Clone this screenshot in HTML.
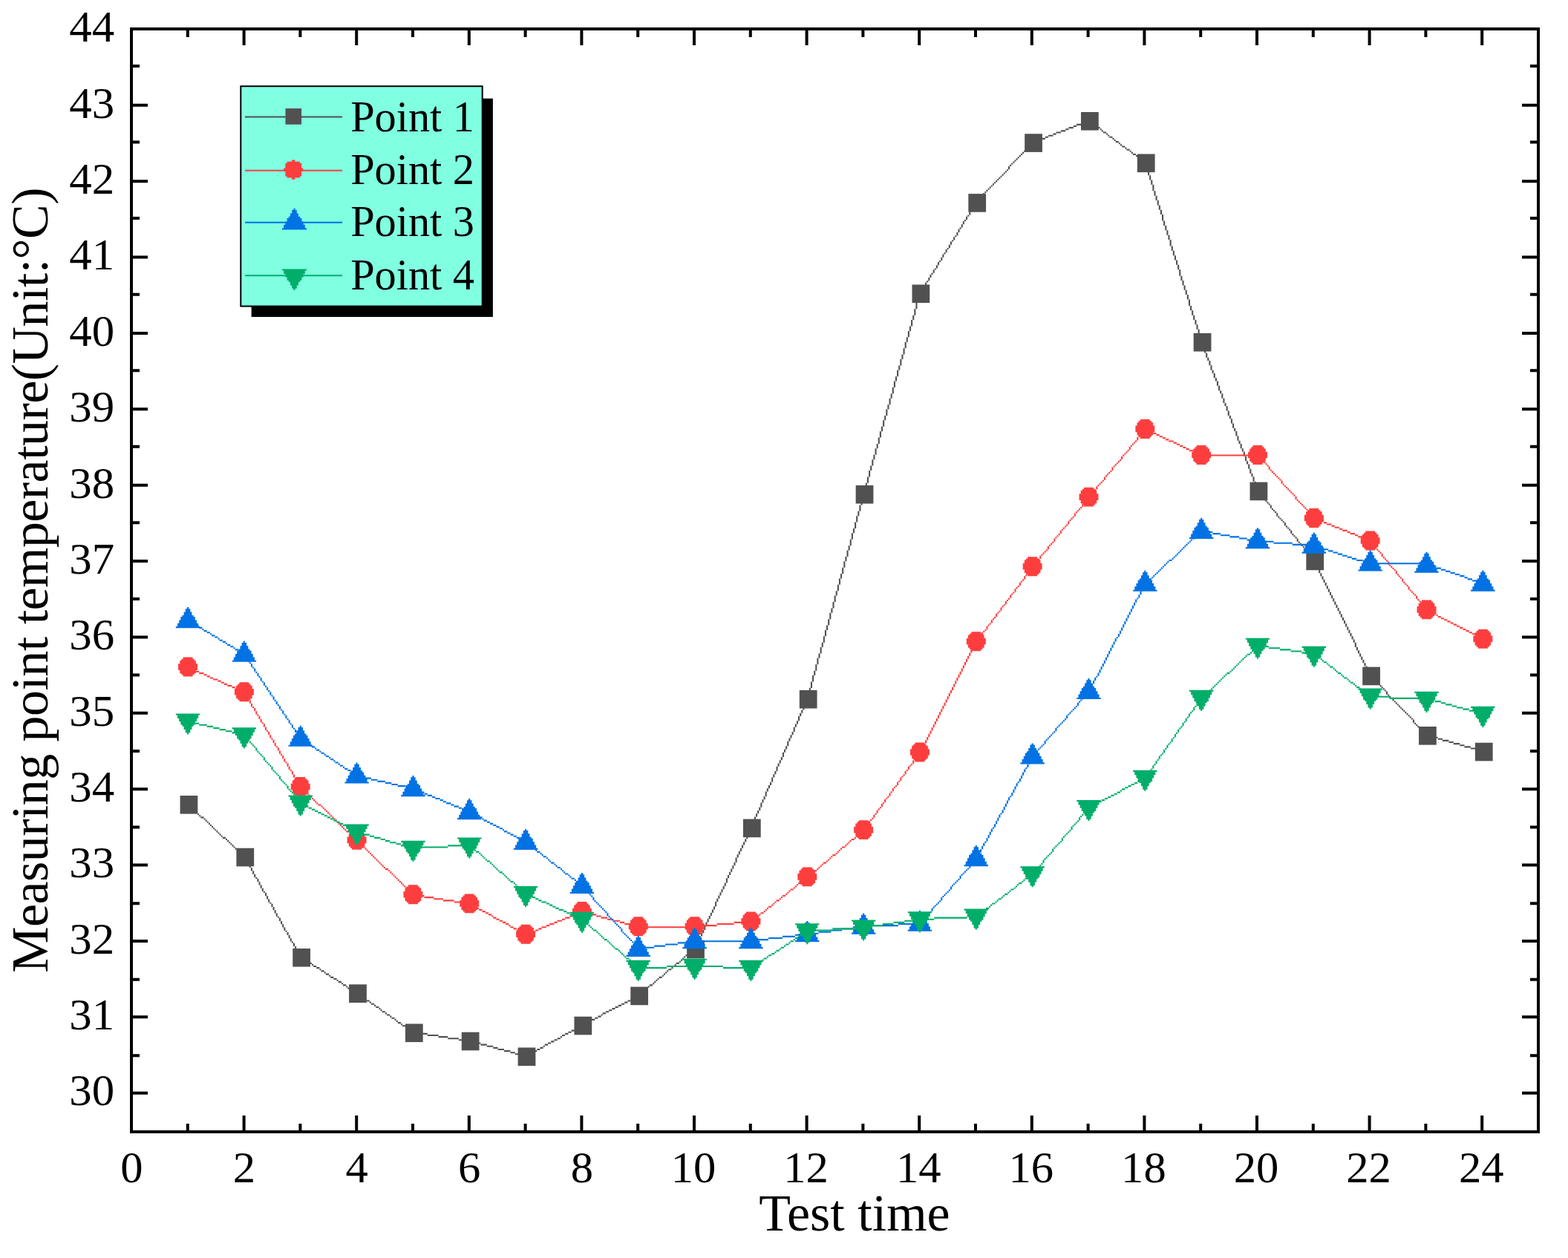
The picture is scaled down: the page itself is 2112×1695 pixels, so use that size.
<!DOCTYPE html>
<html lang="en"><head><meta charset="utf-8"><title>Measuring point temperature vs test time</title>
<style>html,body{margin:0;padding:0;background:#fff}body{width:2112px;height:1695px;overflow:hidden}svg{display:block}text{font-family:'Liberation Serif',serif;fill:#000}</style>
</head><body>
<svg width="2112" height="1695" viewBox="0 0 2112 1695">
<rect width="2112" height="1695" fill="#fff"/>
<g stroke-linecap="butt">
<path fill="#515151" d="M253.44,1083.46h2.11v2.11h-2.11zM255.55,1085.57h2.11v2.11h-2.11zM257.65,1087.68h2.11v2.11h-2.11zM259.76,1089.79h2.11v2.11h-2.11zM261.87,1091.9h2.11v2.11h-2.11zM263.97,1094.02h2.11v2.11h-2.11zM266.08,1096.13h2.11v2.11h-2.11zM268.19,1098.24h2.11v2.11h-2.11zM270.29,1100.35h4.21v2.11h-4.21zM274.51,1102.46h2.11v2.11h-2.11zM276.61,1104.58h2.11v2.11h-2.11zM278.72,1106.69h2.11v2.11h-2.11zM280.83,1108.8h2.11v2.11h-2.11zM282.93,1110.91h2.11v2.11h-2.11zM285.04,1113.02h2.11v2.11h-2.11zM287.15,1115.14h2.11v2.11h-2.11zM289.25,1117.25h2.11v2.11h-2.11zM291.36,1119.36h2.11v2.11h-2.11zM293.47,1121.47h2.11v2.11h-2.11zM295.57,1123.58h2.11v2.11h-2.11zM297.68,1125.7h2.11v2.11h-2.11zM299.79,1127.81h4.21v2.11h-4.21zM304,1129.92h2.11v2.11h-2.11zM306.11,1132.03h2.11v2.11h-2.11zM308.21,1134.14h2.11v2.11h-2.11zM310.32,1136.26h2.11v2.11h-2.11zM312.43,1138.37h2.11v2.11h-2.11zM314.53,1140.48h2.11v2.11h-2.11zM316.64,1142.59h2.11v2.11h-2.11zM318.75,1144.7h2.11v2.11h-2.11zM320.85,1146.82h2.11v2.11h-2.11zM322.96,1148.93h2.11v2.11h-2.11zM325.07,1151.04h2.11v2.11h-2.11zM327.17,1153.15h2.11v2.11h-2.11zM329.47,1154.46h2.11v4.23h-2.11zM331.58,1158.69h2.11v4.23h-2.11zM333.7,1162.91h2.11v4.23h-2.11zM335.81,1167.14h2.11v2.11h-2.11zM337.92,1169.25h2.11v4.23h-2.11zM340.03,1173.48h2.11v4.23h-2.11zM342.14,1177.7h2.11v4.23h-2.11zM344.26,1181.93h2.11v2.11h-2.11zM346.37,1184.04h2.11v4.23h-2.11zM348.48,1188.26h2.11v4.23h-2.11zM350.59,1192.49h2.11v4.23h-2.11zM352.7,1196.72h2.11v4.23h-2.11zM354.82,1200.94h2.11v2.11h-2.11zM356.93,1203.05h2.11v4.23h-2.11zM359.04,1207.28h2.11v4.23h-2.11zM361.15,1211.51h2.11v4.23h-2.11zM363.26,1215.73h2.11v2.11h-2.11zM365.38,1217.84h2.11v4.23h-2.11zM367.49,1222.07h2.11v4.23h-2.11zM369.6,1226.3h2.11v4.23h-2.11zM371.71,1230.52h2.11v4.23h-2.11zM373.82,1234.75h2.11v2.11h-2.11zM375.94,1236.86h2.11v4.23h-2.11zM378.05,1241.09h2.11v4.23h-2.11zM380.16,1245.31h2.11v4.23h-2.11zM382.27,1249.54h2.11v4.23h-2.11zM384.38,1253.76h2.11v2.11h-2.11zM386.5,1255.88h2.11v4.23h-2.11zM388.61,1260.1h2.11v4.23h-2.11zM390.72,1264.33h2.11v4.23h-2.11zM392.83,1268.55h2.11v2.11h-2.11zM394.94,1270.66h2.11v4.23h-2.11zM397.06,1274.89h2.11v4.23h-2.11zM399.17,1279.12h2.11v4.23h-2.11zM401.28,1283.34h2.11v4.23h-2.11zM403.39,1287.57h2.11v2.11h-2.11zM405.12,1288.32h2.11v2.11h-2.11zM407.23,1290.43h2.11v2.11h-2.11zM409.33,1292.54h4.21v2.11h-4.21zM413.55,1294.66h2.11v2.11h-2.11zM415.65,1296.77h4.21v2.11h-4.21zM419.87,1298.88h2.11v2.11h-2.11zM421.97,1300.99h4.21v2.11h-4.21zM426.19,1303.1h4.21v2.11h-4.21zM430.4,1305.22h2.11v2.11h-2.11zM432.51,1307.33h4.21v2.11h-4.21zM436.72,1309.44h2.11v2.11h-2.11zM438.83,1311.55h4.21v2.11h-4.21zM443.04,1313.66h2.11v2.11h-2.11zM445.15,1315.78h4.21v2.11h-4.21zM449.36,1317.89h4.21v2.11h-4.21zM453.57,1320h2.11v2.11h-2.11zM455.68,1322.11h4.21v2.11h-4.21zM459.89,1324.22h2.11v2.11h-2.11zM462,1326.34h4.21v2.11h-4.21zM466.21,1328.45h2.11v2.11h-2.11zM468.32,1330.56h4.21v2.11h-4.21zM472.53,1332.67h4.21v2.11h-4.21zM476.75,1334.78h2.11v2.11h-2.11zM478.85,1336.9h2.11v2.11h-2.11zM480.96,1336.9h2.11v2.11h-2.11zM483.07,1339.01h2.11v2.11h-2.11zM485.17,1341.12h2.11v2.11h-2.11zM487.28,1343.23h4.21v2.11h-4.21zM491.49,1345.34h2.11v2.11h-2.11zM493.6,1347.46h4.21v2.11h-4.21zM497.81,1349.57h2.11v2.11h-2.11zM499.92,1351.68h4.21v2.11h-4.21zM504.13,1353.79h2.11v2.11h-2.11zM506.24,1355.9h4.21v2.11h-4.21zM510.45,1358.02h2.11v2.11h-2.11zM512.56,1360.13h2.11v2.11h-2.11zM514.67,1362.24h4.21v2.11h-4.21zM518.88,1364.35h2.11v2.11h-2.11zM520.99,1366.46h4.21v2.11h-4.21zM525.2,1368.58h2.11v2.11h-2.11zM527.31,1370.69h4.21v2.11h-4.21zM531.52,1372.8h2.11v2.11h-2.11zM533.63,1374.91h2.11v2.11h-2.11zM535.73,1377.02h4.21v2.11h-4.21zM539.95,1379.14h2.11v2.11h-2.11zM542.05,1381.25h4.21v2.11h-4.21zM546.27,1383.36h2.11v2.11h-2.11zM548.37,1385.47h4.21v2.11h-4.21zM552.59,1387.58h2.11v2.11h-2.11zM554.69,1389.7h2.11v2.11h-2.11zM556.8,1389.7h4.21v2.11h-4.21zM561.01,1391.81h14.75v2.11h-14.75zM575.76,1393.92h14.75v2.11h-14.75zM590.51,1396.03h12.64v2.11h-12.64zM603.15,1398.14h14.75v2.11h-14.75zM617.89,1400.26h14.75v2.11h-14.75zM632.64,1402.37h8.43v2.11h-8.43zM641.07,1404.48h6.32v2.11h-6.32zM647.39,1406.59h8.43v2.11h-8.43zM655.81,1408.7h8.43v2.11h-8.43zM664.24,1410.82h6.32v2.11h-6.32zM670.56,1412.93h8.43v2.11h-8.43zM678.99,1415.04h8.43v2.11h-8.43zM687.41,1417.15h6.32v2.11h-6.32zM693.73,1419.26h8.43v2.11h-8.43zM702.16,1421.38h6.32v2.11h-6.32zM708.48,1421.38h4.21v2.11h-4.21zM712.69,1419.26h2.11v2.11h-2.11zM714.8,1417.15h4.21v2.11h-4.21zM719.01,1415.04h4.21v2.11h-4.21zM723.23,1412.93h4.21v2.11h-4.21zM727.44,1410.82h4.21v2.11h-4.21zM731.65,1408.7h2.11v2.11h-2.11zM733.76,1406.59h4.21v2.11h-4.21zM737.97,1404.48h4.21v2.11h-4.21zM742.19,1402.37h4.21v2.11h-4.21zM746.4,1400.26h4.21v2.11h-4.21zM750.61,1398.14h4.21v2.11h-4.21zM754.83,1396.03h2.11v2.11h-2.11zM756.93,1393.92h4.21v2.11h-4.21zM761.15,1391.81h4.21v2.11h-4.21zM765.36,1389.7h4.21v2.11h-4.21zM769.57,1387.58h4.21v2.11h-4.21zM773.79,1385.47h4.21v2.11h-4.21zM778,1383.36h2.11v2.11h-2.11zM780.11,1381.25h4.21v2.11h-4.21zM784.32,1379.14h4.21v2.11h-4.21zM788.53,1377.02h4.21v2.11h-4.21zM792.75,1374.91h4.21v2.11h-4.21zM796.96,1372.8h4.21v2.11h-4.21zM801.17,1370.69h4.21v2.11h-4.21zM805.39,1368.58h4.21v2.11h-4.21zM809.6,1366.46h2.11v2.11h-2.11zM811.71,1364.35h4.21v2.11h-4.21zM815.92,1362.24h4.21v2.11h-4.21zM820.13,1360.13h4.21v2.11h-4.21zM824.35,1358.02h4.21v2.11h-4.21zM828.56,1355.9h4.21v2.11h-4.21zM832.77,1353.79h4.21v2.11h-4.21zM836.99,1351.68h4.21v2.11h-4.21zM841.2,1349.57h4.21v2.11h-4.21zM845.41,1347.46h4.21v2.11h-4.21zM849.63,1345.34h2.11v2.11h-2.11zM851.73,1343.23h4.21v2.11h-4.21zM855.95,1341.12h4.21v2.11h-4.21zM860.16,1339.01h2.11v2.11h-2.11zM862.27,1336.9h4.21v2.11h-4.21zM866.48,1334.78h2.11v2.11h-2.11zM868.59,1332.67h2.11v2.11h-2.11zM870.69,1330.56h2.11v2.11h-2.11zM872.8,1328.45h2.11v2.11h-2.11zM874.91,1326.34h4.21v2.11h-4.21zM879.12,1324.22h2.11v2.11h-2.11zM881.23,1322.11h2.11v2.11h-2.11zM883.33,1320h2.11v2.11h-2.11zM885.44,1317.89h2.11v2.11h-2.11zM887.55,1315.78h4.21v2.11h-4.21zM891.76,1313.66h2.11v2.11h-2.11zM893.87,1311.55h2.11v2.11h-2.11zM895.97,1309.44h2.11v2.11h-2.11zM898.08,1307.33h2.11v2.11h-2.11zM900.19,1305.22h4.21v2.11h-4.21zM904.4,1303.1h2.11v2.11h-2.11zM906.51,1300.99h2.11v2.11h-2.11zM908.61,1298.88h2.11v2.11h-2.11zM910.72,1296.77h4.21v2.11h-4.21zM914.93,1294.66h2.11v2.11h-2.11zM917.04,1292.54h2.11v2.11h-2.11zM919.15,1290.43h2.11v2.11h-2.11zM921.25,1288.32h2.11v2.11h-2.11zM923.36,1286.21h4.21v2.11h-4.21zM927.57,1284.1h2.11v2.11h-2.11zM929.68,1281.98h2.11v2.11h-2.11zM931.79,1279.87h2.11v2.11h-2.11zM933.89,1277.76h2.11v2.11h-2.11zM935.62,1274.3h2.11v4.24h-2.11zM937.73,1270.06h2.11v4.24h-2.11zM939.84,1265.82h2.11v4.24h-2.11zM941.95,1261.58h2.11v4.24h-2.11zM944.06,1257.34h2.11v4.24h-2.11zM946.18,1253.1h2.11v4.24h-2.11zM948.29,1246.74h2.11v6.36h-2.11zM950.4,1242.5h2.11v4.24h-2.11zM952.51,1238.26h2.11v4.24h-2.11zM954.62,1234.02h2.11v4.24h-2.11zM956.74,1229.78h2.11v4.24h-2.11zM958.85,1225.54h2.11v4.24h-2.11zM960.96,1221.3h2.11v4.24h-2.11zM963.07,1214.94h2.11v6.36h-2.11zM965.18,1210.7h2.11v4.24h-2.11zM967.3,1206.46h2.11v4.24h-2.11zM969.41,1202.22h2.11v4.24h-2.11zM971.52,1197.98h2.11v4.24h-2.11zM973.63,1193.74h2.11v4.24h-2.11zM975.74,1189.5h2.11v4.24h-2.11zM977.86,1183.14h2.11v6.36h-2.11zM979.97,1178.9h2.11v4.24h-2.11zM982.08,1174.66h2.11v4.24h-2.11zM984.19,1170.42h2.11v4.24h-2.11zM986.3,1166.18h2.11v4.24h-2.11zM988.42,1161.94h2.11v4.24h-2.11zM990.53,1155.58h2.11v6.36h-2.11zM992.64,1151.34h2.11v4.24h-2.11zM994.75,1147.1h2.11v4.24h-2.11zM996.86,1142.86h2.11v4.24h-2.11zM998.98,1138.62h2.11v4.24h-2.11zM1001.09,1134.38h2.11v4.24h-2.11zM1003.2,1130.14h2.11v4.24h-2.11zM1005.31,1123.78h2.11v6.36h-2.11zM1007.42,1119.54h2.11v4.24h-2.11zM1009.54,1115.3h2.11v4.24h-2.11zM1011.65,1111.06h2.11v4.24h-2.11zM1013.76,1106.83h2.11v4.24h-2.11zM1015.87,1100.47h2.11v6.35h-2.11zM1017.98,1096.24h2.11v4.24h-2.11zM1020.1,1092h2.11v4.24h-2.11zM1022.21,1087.77h2.11v4.24h-2.11zM1024.32,1081.41h2.11v6.35h-2.11zM1026.43,1077.18h2.11v4.24h-2.11zM1028.54,1072.94h2.11v4.24h-2.11zM1030.66,1066.58h2.11v6.35h-2.11zM1032.77,1062.35h2.11v4.24h-2.11zM1034.88,1058.11h2.11v4.24h-2.11zM1036.99,1053.88h2.11v4.24h-2.11zM1039.1,1047.52h2.11v6.35h-2.11zM1041.22,1043.29h2.11v4.24h-2.11zM1043.33,1039.05h2.11v4.24h-2.11zM1045.44,1032.7h2.11v6.35h-2.11zM1047.55,1028.46h2.11v4.24h-2.11zM1049.66,1024.22h2.11v4.24h-2.11zM1051.78,1019.99h2.11v4.24h-2.11zM1053.89,1013.63h2.11v6.35h-2.11zM1056,1009.4h2.11v4.24h-2.11zM1058.11,1005.16h2.11v4.24h-2.11zM1060.22,998.81h2.11v6.35h-2.11zM1062.34,994.57h2.11v4.24h-2.11zM1064.45,990.34h2.11v4.24h-2.11zM1066.56,986.1h2.11v4.24h-2.11zM1068.67,979.74h2.11v6.35h-2.11zM1070.78,975.51h2.11v4.24h-2.11zM1072.9,971.27h2.11v4.24h-2.11zM1075.01,964.92h2.11v6.35h-2.11zM1077.12,960.68h2.11v4.24h-2.11zM1079.23,956.45h2.11v4.24h-2.11zM1081.34,952.21h2.11v4.24h-2.11zM1083.46,945.86h2.11v6.35h-2.11zM1085.57,941.62h2.11v4.24h-2.11zM1087.68,933.19h2.11v8.43h-2.11zM1089.79,926.87h2.11v6.32h-2.11zM1091.9,918.45h2.11v8.43h-2.11zM1094.02,910.02h2.11v8.43h-2.11zM1096.13,903.7h2.11v6.32h-2.11zM1098.24,895.27h2.11v8.43h-2.11zM1100.35,886.85h2.11v8.43h-2.11zM1102.46,880.53h2.11v6.32h-2.11zM1104.58,872.1h2.11v8.43h-2.11zM1106.69,865.78h2.11v6.32h-2.11zM1108.8,857.35h2.11v8.43h-2.11zM1110.91,848.92h2.11v8.43h-2.11zM1113.02,842.6h2.11v6.32h-2.11zM1115.14,834.18h2.11v8.43h-2.11zM1117.25,825.75h2.11v8.43h-2.11zM1119.36,819.43h2.11v6.32h-2.11zM1121.47,811h2.11v8.43h-2.11zM1123.58,802.58h2.11v8.43h-2.11zM1125.7,796.26h2.11v6.32h-2.11zM1127.81,787.83h2.11v8.43h-2.11zM1129.92,779.4h2.11v8.43h-2.11zM1132.03,773.08h2.11v6.32h-2.11zM1134.14,764.66h2.11v8.43h-2.11zM1136.26,756.23h2.11v8.43h-2.11zM1138.37,749.91h2.11v6.32h-2.11zM1140.48,741.48h2.11v8.43h-2.11zM1142.59,735.16h2.11v6.32h-2.11zM1144.7,726.73h2.11v8.43h-2.11zM1146.82,718.31h2.11v8.43h-2.11zM1148.93,711.99h2.11v6.32h-2.11zM1151.04,703.56h2.11v8.43h-2.11zM1153.15,695.13h2.11v8.43h-2.11zM1155.26,688.81h2.11v6.32h-2.11zM1157.38,680.39h2.11v8.43h-2.11zM1159.49,671.96h2.11v8.43h-2.11zM1161.6,665.64h2.11v6.32h-2.11zM1163.71,657.19h2.11v8.45h-2.11zM1165.82,650.85h2.11v6.34h-2.11zM1167.94,642.4h2.11v8.45h-2.11zM1170.05,633.95h2.11v8.45h-2.11zM1172.16,627.61h2.11v6.34h-2.11zM1174.27,619.16h2.11v8.45h-2.11zM1176.38,612.82h2.11v6.34h-2.11zM1178.5,604.37h2.11v8.45h-2.11zM1180.61,598.03h2.11v6.34h-2.11zM1182.72,589.58h2.11v8.45h-2.11zM1184.83,581.13h2.11v8.45h-2.11zM1186.94,574.79h2.11v6.34h-2.11zM1189.06,566.34h2.11v8.45h-2.11zM1191.17,560h2.11v6.34h-2.11zM1193.28,551.55h2.11v8.45h-2.11zM1195.39,545.21h2.11v6.34h-2.11zM1197.5,536.76h2.11v8.45h-2.11zM1199.62,530.42h2.11v6.34h-2.11zM1201.73,521.97h2.11v8.45h-2.11zM1203.84,513.52h2.11v8.45h-2.11zM1205.95,507.18h2.11v6.34h-2.11zM1208.06,498.73h2.11v8.45h-2.11zM1210.18,492.39h2.11v6.34h-2.11zM1212.29,483.94h2.11v8.45h-2.11zM1214.4,477.6h2.11v6.34h-2.11zM1216.51,469.15h2.11v8.45h-2.11zM1218.62,460.7h2.11v8.45h-2.11zM1220.74,454.36h2.11v6.34h-2.11zM1222.85,445.91h2.11v8.45h-2.11zM1224.96,439.57h2.11v6.34h-2.11zM1227.07,431.12h2.11v8.45h-2.11zM1229.18,424.78h2.11v6.34h-2.11zM1231.3,416.33h2.11v8.45h-2.11zM1233.41,407.88h2.11v8.45h-2.11zM1235.52,401.54h2.11v6.34h-2.11zM1237.63,395.2h2.11v6.34h-2.11zM1239.74,390.98h2.11v4.22h-2.11zM1241.86,386.76h2.11v4.22h-2.11zM1243.97,384.65h2.11v2.11h-2.11zM1246.08,380.43h2.11v4.22h-2.11zM1248.19,378.32h2.11v2.11h-2.11zM1250.3,374.1h2.11v4.22h-2.11zM1252.42,369.88h2.11v4.22h-2.11zM1254.53,367.77h2.11v2.11h-2.11zM1256.64,363.55h2.11v4.22h-2.11zM1258.75,361.44h2.11v2.11h-2.11zM1260.86,357.22h2.11v4.22h-2.11zM1262.98,353h2.11v4.22h-2.11zM1265.09,350.89h2.11v2.11h-2.11zM1267.2,346.67h2.11v4.22h-2.11zM1269.31,342.45h2.11v4.22h-2.11zM1271.42,340.34h2.11v2.11h-2.11zM1273.54,336.12h2.11v4.22h-2.11zM1275.65,334.01h2.11v2.11h-2.11zM1277.76,329.79h2.11v4.22h-2.11zM1279.87,325.57h2.11v4.22h-2.11zM1281.98,323.46h2.11v2.11h-2.11zM1284.1,319.24h2.11v4.22h-2.11zM1286.21,317.13h2.11v2.11h-2.11zM1288.32,312.91h2.11v4.22h-2.11zM1290.43,308.69h2.11v4.22h-2.11zM1292.54,306.58h2.11v2.11h-2.11zM1294.66,302.36h2.11v4.22h-2.11zM1296.77,298.14h2.11v4.22h-2.11zM1298.88,296.03h2.11v2.11h-2.11zM1300.99,291.81h2.11v4.22h-2.11zM1303.1,289.7h2.11v2.11h-2.11zM1305.22,285.48h2.11v4.22h-2.11zM1307.33,281.26h2.11v4.22h-2.11zM1309.44,279.15h2.11v2.11h-2.11zM1311.55,274.93h2.11v4.22h-2.11zM1313.66,272.82h2.11v2.11h-2.11zM1315.78,270.69h2.11v2.13h-2.11zM1317.89,268.57h2.11v2.13h-2.11zM1320,266.44h2.11v2.13h-2.11zM1322.11,262.19h2.11v4.25h-2.11zM1324.22,260.06h2.11v2.13h-2.11zM1326.34,257.93h2.11v2.13h-2.11zM1328.45,255.81h2.11v2.13h-2.11zM1330.56,253.68h2.11v2.13h-2.11zM1332.67,251.55h2.11v2.13h-2.11zM1334.78,249.42h2.11v2.13h-2.11zM1336.9,247.3h2.11v2.13h-2.11zM1339.01,245.17h2.11v2.13h-2.11zM1341.12,243.04h2.11v2.13h-2.11zM1343.23,240.92h2.11v2.13h-2.11zM1345.34,238.79h2.11v2.13h-2.11zM1347.46,236.66h2.11v2.13h-2.11zM1349.57,234.54h2.11v2.13h-2.11zM1351.68,232.41h2.11v2.13h-2.11zM1353.79,230.28h2.11v2.13h-2.11zM1355.9,228.16h2.11v2.13h-2.11zM1358.02,223.9h2.11v4.25h-2.11zM1360.13,221.78h2.11v2.13h-2.11zM1362.24,219.65h2.11v2.13h-2.11zM1364.35,217.52h2.11v2.13h-2.11zM1366.46,215.4h2.11v2.13h-2.11zM1368.58,213.27h2.11v2.13h-2.11zM1370.69,211.14h2.11v2.13h-2.11zM1372.8,209.01h2.11v2.13h-2.11zM1374.91,206.89h2.11v2.13h-2.11zM1377.02,204.76h2.11v2.13h-2.11zM1379.14,202.63h2.11v2.13h-2.11zM1381.25,200.51h2.11v2.13h-2.11zM1383.36,198.38h2.11v2.13h-2.11zM1385.47,196.25h2.11v2.13h-2.11zM1387.58,194.13h2.11v2.13h-2.11zM1389.7,192h2.11v2.13h-2.11zM1391.04,190.08h4.21v2.11h-4.21zM1395.25,187.97h6.32v2.11h-6.32zM1401.57,185.86h6.32v2.11h-6.32zM1407.89,183.74h4.21v2.11h-4.21zM1412.11,181.63h6.32v2.11h-6.32zM1418.43,179.52h4.21v2.11h-4.21zM1422.64,177.41h6.32v2.11h-6.32zM1428.96,175.3h6.32v2.11h-6.32zM1435.28,173.18h4.21v2.11h-4.21zM1439.49,171.07h6.32v2.11h-6.32zM1445.81,168.96h4.21v2.11h-4.21zM1450.03,166.85h6.32v2.11h-6.32zM1456.35,164.74h4.21v2.11h-4.21zM1460.56,162.62h6.32v2.11h-6.32zM1466.88,162.62h2.11v2.11h-2.11zM1468.99,164.74h4.21v2.11h-4.21zM1473.2,166.85h2.11v2.11h-2.11zM1475.31,168.96h2.11v2.11h-2.11zM1477.41,171.07h4.21v2.11h-4.21zM1481.63,173.18h2.11v2.11h-2.11zM1483.73,175.3h2.11v2.11h-2.11zM1485.84,177.41h4.21v2.11h-4.21zM1490.05,179.52h2.11v2.11h-2.11zM1492.16,181.63h2.11v2.11h-2.11zM1494.27,183.74h4.21v2.11h-4.21zM1498.48,185.86h2.11v2.11h-2.11zM1500.59,187.97h2.11v2.11h-2.11zM1502.69,190.08h4.21v2.11h-4.21zM1506.91,192.19h2.11v2.11h-2.11zM1509.01,194.3h2.11v2.11h-2.11zM1511.12,196.42h4.21v2.11h-4.21zM1515.33,198.53h2.11v2.11h-2.11zM1517.44,200.64h4.21v2.11h-4.21zM1521.65,202.75h2.11v2.11h-2.11zM1523.76,204.86h2.11v2.11h-2.11zM1525.87,206.98h4.21v2.11h-4.21zM1530.08,209.09h2.11v2.11h-2.11zM1532.19,211.2h2.11v2.11h-2.11zM1534.29,213.31h4.21v2.11h-4.21zM1538.51,215.42h2.11v2.11h-2.11zM1540.61,217.54h2.11v2.11h-2.11zM1541.76,219.22h2.11v4.24h-2.11zM1543.87,223.46h2.11v6.35h-2.11zM1545.98,229.81h2.11v6.35h-2.11zM1548.1,236.16h2.11v6.35h-2.11zM1550.21,242.51h2.11v6.35h-2.11zM1552.32,248.87h2.11v8.47h-2.11zM1554.43,257.34h2.11v6.35h-2.11zM1556.54,263.69h2.11v6.35h-2.11zM1558.66,270.05h2.11v6.35h-2.11zM1560.77,276.4h2.11v6.35h-2.11zM1562.88,282.75h2.11v6.35h-2.11zM1564.99,289.1h2.11v8.47h-2.11zM1567.1,297.58h2.11v6.35h-2.11zM1569.22,303.93h2.11v6.35h-2.11zM1571.33,310.28h2.11v6.35h-2.11zM1573.44,316.64h2.11v6.35h-2.11zM1575.55,322.99h2.11v8.47h-2.11zM1577.66,331.46h2.11v6.35h-2.11zM1579.78,337.81h2.11v6.35h-2.11zM1581.89,344.17h2.11v6.35h-2.11zM1584,350.52h2.11v6.35h-2.11zM1586.11,356.87h2.11v6.35h-2.11zM1588.22,363.22h2.11v8.47h-2.11zM1590.34,371.7h2.11v6.35h-2.11zM1592.45,378.05h2.11v6.35h-2.11zM1594.56,384.4h2.11v6.35h-2.11zM1596.67,390.76h2.11v6.35h-2.11zM1598.78,397.11h2.11v6.35h-2.11zM1600.9,403.46h2.11v8.47h-2.11zM1603.01,411.93h2.11v6.35h-2.11zM1605.12,418.29h2.11v6.35h-2.11zM1607.23,424.64h2.11v6.35h-2.11zM1609.34,430.99h2.11v6.35h-2.11zM1611.46,437.35h2.11v6.35h-2.11zM1613.57,443.7h2.11v8.47h-2.11zM1615.68,452.17h2.11v6.35h-2.11zM1617.79,458.52h2.11v2.12h-2.11zM1617.79,460.64h2.11v4.23h-2.11zM1619.9,464.87h2.11v4.23h-2.11zM1622.02,469.09h2.11v6.34h-2.11zM1624.13,475.43h2.11v6.34h-2.11zM1626.24,481.77h2.11v4.23h-2.11zM1628.35,485.99h2.11v6.34h-2.11zM1630.46,492.33h2.11v6.34h-2.11zM1632.58,498.67h2.11v4.23h-2.11zM1634.69,502.89h2.11v6.34h-2.11zM1636.8,509.23h2.11v4.23h-2.11zM1638.91,513.46h2.11v6.34h-2.11zM1641.02,519.79h2.11v6.34h-2.11zM1643.14,526.13h2.11v4.23h-2.11zM1645.25,530.36h2.11v6.34h-2.11zM1647.36,536.69h2.11v6.34h-2.11zM1649.47,543.03h2.11v4.23h-2.11zM1651.58,547.26h2.11v6.34h-2.11zM1653.7,553.6h2.11v6.34h-2.11zM1655.81,559.93h2.11v4.23h-2.11zM1657.92,564.16h2.11v6.34h-2.11zM1660.03,570.5h2.11v6.34h-2.11zM1662.14,576.83h2.11v4.23h-2.11zM1664.26,581.06h2.11v6.34h-2.11zM1666.37,587.4h2.11v6.34h-2.11zM1668.48,593.74h2.11v4.23h-2.11zM1670.59,597.96h2.11v6.34h-2.11zM1672.7,604.3h2.11v4.23h-2.11zM1674.82,608.52h2.11v6.34h-2.11zM1676.93,614.86h2.11v6.34h-2.11zM1679.04,621.2h2.11v4.23h-2.11zM1681.15,625.43h2.11v6.34h-2.11zM1683.26,631.76h2.11v6.34h-2.11zM1685.38,638.1h2.11v4.23h-2.11zM1687.49,642.33h2.11v6.34h-2.11zM1689.6,648.66h2.11v6.34h-2.11zM1691.71,655h2.11v4.23h-2.11zM1693.82,659.23h2.11v2.11h-2.11zM1693.82,661.34h2.11v2.14h-2.11zM1695.94,663.48h2.11v2.14h-2.11zM1698.05,665.61h2.11v2.14h-2.11zM1700.16,667.75h2.11v4.27h-2.11zM1702.27,672.02h2.11v2.14h-2.11zM1704.38,674.15h2.11v2.14h-2.11zM1706.5,676.29h2.11v2.14h-2.11zM1708.61,678.42h2.11v2.14h-2.11zM1710.72,680.56h2.11v4.27h-2.11zM1712.83,684.83h2.11v2.14h-2.11zM1714.94,686.97h2.11v2.14h-2.11zM1717.06,689.1h2.11v2.14h-2.11zM1719.17,691.24h2.11v4.27h-2.11zM1721.28,695.51h2.11v2.14h-2.11zM1723.39,697.64h2.11v2.14h-2.11zM1725.5,699.78h2.11v2.14h-2.11zM1727.62,701.91h2.11v2.14h-2.11zM1729.73,704.05h2.11v4.27h-2.11zM1731.84,708.32h2.11v2.14h-2.11zM1733.95,710.46h2.11v2.14h-2.11zM1736.06,712.59h2.11v2.14h-2.11zM1738.18,714.73h2.11v4.27h-2.11zM1740.29,719h2.11v2.14h-2.11zM1742.4,721.13h2.11v2.14h-2.11zM1744.51,723.27h2.11v2.14h-2.11zM1746.62,725.4h2.11v4.27h-2.11zM1748.74,729.67h2.11v2.14h-2.11zM1750.85,731.81h2.11v2.14h-2.11zM1752.96,733.95h2.11v2.14h-2.11zM1755.07,736.08h2.11v2.14h-2.11zM1757.18,738.22h2.11v4.27h-2.11zM1759.3,742.49h2.11v2.14h-2.11zM1761.41,744.62h2.11v2.14h-2.11zM1763.52,746.76h2.11v2.14h-2.11zM1765.63,748.89h2.11v4.27h-2.11zM1767.74,753.16h2.11v2.14h-2.11zM1769.86,755.3h2.11v4.25h-2.11zM1771.97,759.55h2.11v4.25h-2.11zM1774.08,763.8h2.11v4.25h-2.11zM1776.19,768.04h2.11v4.25h-2.11zM1778.3,772.29h2.11v4.25h-2.11zM1780.42,776.54h2.11v4.25h-2.11zM1782.53,780.79h2.11v4.25h-2.11zM1784.64,785.04h2.11v4.25h-2.11zM1786.75,789.28h2.11v4.25h-2.11zM1788.86,793.53h2.11v4.25h-2.11zM1790.98,797.78h2.11v4.25h-2.11zM1793.09,802.03h2.11v4.25h-2.11zM1795.2,806.28h2.11v4.25h-2.11zM1797.31,810.52h2.11v4.25h-2.11zM1799.42,814.77h2.11v4.25h-2.11zM1801.54,819.02h2.11v4.25h-2.11zM1803.65,823.27h2.11v4.25h-2.11zM1805.76,827.52h2.11v4.25h-2.11zM1807.87,831.76h2.11v4.25h-2.11zM1809.98,836.01h2.11v4.25h-2.11zM1812.1,840.26h2.11v4.25h-2.11zM1814.21,844.51h2.11v4.25h-2.11zM1816.32,848.75h2.11v4.25h-2.11zM1818.43,853h2.11v4.25h-2.11zM1820.54,857.25h2.11v4.25h-2.11zM1822.66,861.5h2.11v4.25h-2.11zM1824.77,865.75h2.11v6.37h-2.11zM1826.88,872.12h2.11v4.25h-2.11zM1828.99,876.37h2.11v4.25h-2.11zM1831.1,880.61h2.11v4.25h-2.11zM1833.22,884.86h2.11v4.25h-2.11zM1835.33,889.11h2.11v4.25h-2.11zM1837.44,893.36h2.11v4.25h-2.11zM1839.55,897.61h2.11v4.25h-2.11zM1841.66,901.85h2.11v4.25h-2.11zM1843.78,906.1h2.11v4.25h-2.11zM1845.89,910.35h2.11v2.12h-2.11zM1848,912.47h2.11v2.12h-2.11zM1850.11,914.58h2.11v2.12h-2.11zM1852.22,916.7h2.11v2.12h-2.11zM1854.34,918.81h2.11v2.12h-2.11zM1856.45,920.93h2.11v2.12h-2.11zM1858.56,923.04h2.11v2.12h-2.11zM1860.67,925.16h2.11v2.12h-2.11zM1862.78,927.27h2.11v2.12h-2.11zM1864.9,929.38h2.11v2.12h-2.11zM1867.01,931.5h2.11v4.23h-2.11zM1869.12,935.73h2.11v2.12h-2.11zM1871.23,937.85h2.11v2.12h-2.11zM1873.34,939.96h2.11v2.12h-2.11zM1875.46,942.07h2.11v2.12h-2.11zM1877.57,944.19h2.11v2.12h-2.11zM1879.68,946.3h2.11v2.12h-2.11zM1881.79,948.42h2.11v2.12h-2.11zM1883.9,950.53h2.11v2.12h-2.11zM1886.02,952.65h2.11v2.12h-2.11zM1888.13,954.76h2.11v2.12h-2.11zM1890.24,956.88h2.11v2.12h-2.11zM1892.35,958.99h2.11v2.12h-2.11zM1894.46,961.11h2.11v2.12h-2.11zM1896.58,963.22h2.11v2.12h-2.11zM1898.69,965.34h2.11v2.12h-2.11zM1900.8,967.45h2.11v2.12h-2.11zM1902.91,969.57h2.11v4.23h-2.11zM1905.02,973.8h2.11v2.12h-2.11zM1907.14,975.91h2.11v2.12h-2.11zM1909.25,978.03h2.11v2.12h-2.11zM1911.36,980.14h2.11v2.12h-2.11zM1913.47,982.26h2.11v2.12h-2.11zM1915.58,984.37h2.11v2.12h-2.11zM1917.7,986.49h2.11v2.12h-2.11zM1919.81,988.6h2.11v2.12h-2.11zM1921.92,990.53h6.32v2.11h-6.32zM1928.24,992.64h8.43v2.11h-8.43zM1936.67,994.75h6.32v2.11h-6.32zM1942.99,996.86h8.43v2.11h-8.43zM1951.41,998.98h6.32v2.11h-6.32zM1957.73,1001.09h8.43v2.11h-8.43zM1966.16,1003.2h6.32v2.11h-6.32zM1972.48,1005.31h8.43v2.11h-8.43zM1980.91,1007.42h6.32v2.11h-6.32zM1987.23,1009.54h8.43v2.11h-8.43zM1995.65,1011.65h2.11v2.11h-2.11z"/>
<polygon points="242.56,1071.97 242.56,1096.59 266.32,1096.59 266.32,1071.97" fill="#515151"/>
<polygon points="318.4,1142.75 318.4,1167.37 342.16,1167.37 342.16,1142.75" fill="#515151"/>
<polygon points="394.24,1277.97 394.24,1302.59 418,1302.59 418,1277.97" fill="#515151"/>
<polygon points="470.08,1326.37 470.08,1350.99 493.84,1350.99 493.84,1326.37" fill="#515151"/>
<polygon points="545.92,1379.47 545.92,1404.09 569.68,1404.09 569.68,1379.47" fill="#515151"/>
<polygon points="621.76,1390.71 621.76,1415.33 645.52,1415.33 645.52,1390.71" fill="#515151"/>
<polygon points="697.6,1411.49 697.6,1436.11 721.36,1436.11 721.36,1411.49" fill="#515151"/>
<polygon points="773.44,1369.73 773.44,1394.35 797.2,1394.35 797.2,1369.73" fill="#515151"/>
<polygon points="849.28,1329.62 849.28,1354.24 873.04,1354.24 873.04,1329.62" fill="#515151"/>
<polygon points="925.12,1266.83 925.12,1291.45 948.88,1291.45 948.88,1266.83" fill="#515151"/>
<polygon points="1000.96,1103.59 1000.96,1128.21 1024.72,1128.21 1024.72,1103.59" fill="#515151"/>
<polygon points="1076.8,929.91 1076.8,954.53 1100.56,954.53 1100.56,929.91" fill="#515151"/>
<polygon points="1152.64,653.93 1152.64,678.55 1176.4,678.55 1176.4,653.93" fill="#515151"/>
<polygon points="1228.48,383.49 1228.48,408.11 1252.24,408.11 1252.24,383.49" fill="#515151"/>
<polygon points="1304.32,261.11 1304.32,285.73 1328.08,285.73 1328.08,261.11" fill="#515151"/>
<polygon points="1380.16,180.29 1380.16,204.91 1403.92,204.91 1403.92,180.29" fill="#515151"/>
<polygon points="1456,150.97 1456,175.59 1479.76,175.59 1479.76,150.97" fill="#515151"/>
<polygon points="1531.84,207.51 1531.84,232.13 1555.6,232.13 1555.6,207.51" fill="#515151"/>
<polygon points="1607.68,448.93 1607.68,473.55 1631.44,473.55 1631.44,448.93" fill="#515151"/>
<polygon points="1683.52,649.63 1683.52,674.25 1707.28,674.25 1707.28,649.63" fill="#515151"/>
<polygon points="1759.36,743.59 1759.36,768.21 1783.12,768.21 1783.12,743.59" fill="#515151"/>
<polygon points="1835.2,898.64 1835.2,923.26 1858.96,923.26 1858.96,898.64" fill="#515151"/>
<polygon points="1911.04,979.01 1911.04,1003.63 1934.8,1003.63 1934.8,979.01" fill="#515151"/>
<polygon points="1986.88,1000.74 1986.88,1025.36 2010.64,1025.36 2010.64,1000.74" fill="#515151"/>
</g>
<g stroke-linecap="butt">
<path fill="#fe3e3e" d="M253.44,897.6h2.11v2.11h-2.11zM255.55,899.71h4.21v2.11h-4.21zM259.76,901.82h4.21v2.11h-4.21zM263.97,903.94h4.21v2.11h-4.21zM268.19,906.05h6.32v2.11h-6.32zM274.51,908.16h4.21v2.11h-4.21zM278.72,910.27h4.21v2.11h-4.21zM282.93,912.38h4.21v2.11h-4.21zM287.15,914.5h6.32v2.11h-6.32zM293.47,916.61h4.21v2.11h-4.21zM297.68,918.72h4.21v2.11h-4.21zM301.89,920.83h4.21v2.11h-4.21zM306.11,922.94h6.32v2.11h-6.32zM312.43,925.06h4.21v2.11h-4.21zM316.64,927.17h4.21v2.11h-4.21zM320.85,929.28h6.32v2.11h-6.32zM327.17,931.39h2.11v2.11h-2.11zM329.47,932.78h2.11v4.26h-2.11zM331.58,937.04h2.11v2.13h-2.11zM333.7,939.17h2.11v4.26h-2.11zM335.81,943.42h2.11v4.26h-2.11zM337.92,947.68h2.11v4.26h-2.11zM340.03,951.94h2.11v2.13h-2.11zM342.14,954.07h2.11v4.26h-2.11zM344.26,958.32h2.11v4.26h-2.11zM346.37,962.58h2.11v2.13h-2.11zM348.48,964.71h2.11v4.26h-2.11zM350.59,968.97h2.11v4.26h-2.11zM352.7,973.22h2.11v2.13h-2.11zM354.82,975.35h2.11v4.26h-2.11zM356.93,979.61h2.11v4.26h-2.11zM359.04,983.87h2.11v2.13h-2.11zM361.15,986h2.11v4.26h-2.11zM363.26,990.25h2.11v4.26h-2.11zM365.38,994.51h2.11v2.13h-2.11zM367.49,996.64h2.11v4.26h-2.11zM369.6,1000.9h2.11v4.26h-2.11zM371.71,1005.15h2.11v2.13h-2.11zM373.82,1007.28h2.11v4.26h-2.11zM375.94,1011.54h2.11v4.26h-2.11zM378.05,1015.8h2.11v2.13h-2.11zM380.16,1017.93h2.11v4.26h-2.11zM382.27,1022.18h2.11v4.26h-2.11zM384.38,1026.44h2.11v2.13h-2.11zM386.5,1028.57h2.11v4.26h-2.11zM388.61,1032.83h2.11v4.26h-2.11zM390.72,1037.08h2.11v2.13h-2.11zM392.83,1039.21h2.11v4.26h-2.11zM394.94,1043.47h2.11v4.26h-2.11zM397.06,1047.73h2.11v2.13h-2.11zM399.17,1049.86h2.11v4.26h-2.11zM401.28,1054.11h2.11v4.26h-2.11zM403.39,1058.37h2.11v2.13h-2.11zM405.12,1060.22h2.11v2.11h-2.11zM407.23,1062.34h2.11v2.11h-2.11zM409.33,1064.45h2.11v2.11h-2.11zM411.44,1066.56h2.11v2.11h-2.11zM413.55,1068.67h2.11v2.11h-2.11zM415.65,1070.78h2.11v2.11h-2.11zM417.76,1072.9h2.11v2.11h-2.11zM419.87,1075.01h2.11v2.11h-2.11zM421.97,1077.12h2.11v2.11h-2.11zM424.08,1079.23h2.11v2.11h-2.11zM426.19,1081.34h2.11v2.11h-2.11zM428.29,1083.46h4.21v2.11h-4.21zM432.51,1085.57h2.11v2.11h-2.11zM434.61,1087.68h2.11v2.11h-2.11zM436.72,1089.79h2.11v2.11h-2.11zM438.83,1091.9h2.11v2.11h-2.11zM440.93,1094.02h2.11v2.11h-2.11zM443.04,1096.13h2.11v2.11h-2.11zM445.15,1098.24h2.11v2.11h-2.11zM447.25,1100.35h2.11v2.11h-2.11zM449.36,1102.46h2.11v2.11h-2.11zM451.47,1104.58h2.11v2.11h-2.11zM453.57,1106.69h2.11v2.11h-2.11zM455.68,1108.8h2.11v2.11h-2.11zM457.79,1110.91h2.11v2.11h-2.11zM459.89,1113.02h2.11v2.11h-2.11zM462,1115.14h2.11v2.11h-2.11zM464.11,1117.25h2.11v2.11h-2.11zM466.21,1119.36h4.21v2.11h-4.21zM470.43,1121.47h2.11v2.11h-2.11zM472.53,1123.58h2.11v2.11h-2.11zM474.64,1125.7h2.11v2.11h-2.11zM476.75,1127.81h2.11v2.11h-2.11zM478.85,1129.92h2.11v2.11h-2.11zM480.96,1132.03h2.11v2.11h-2.11zM483.07,1134.14h2.11v2.11h-2.11zM485.17,1136.26h2.11v2.11h-2.11zM487.28,1138.37h2.11v2.11h-2.11zM489.39,1140.48h2.11v2.11h-2.11zM491.49,1142.59h2.11v2.11h-2.11zM493.6,1144.7h2.11v2.11h-2.11zM495.71,1146.82h2.11v2.11h-2.11zM497.81,1148.93h2.11v2.11h-2.11zM499.92,1151.04h2.11v2.11h-2.11zM502.03,1153.15h2.11v2.11h-2.11zM504.13,1155.26h2.11v2.11h-2.11zM506.24,1157.38h2.11v2.11h-2.11zM508.35,1159.49h2.11v2.11h-2.11zM510.45,1161.6h2.11v2.11h-2.11zM512.56,1163.71h2.11v2.11h-2.11zM514.67,1165.82h2.11v2.11h-2.11zM516.77,1167.94h2.11v2.11h-2.11zM518.88,1170.05h4.21v2.11h-4.21zM523.09,1172.16h2.11v2.11h-2.11zM525.2,1174.27h2.11v2.11h-2.11zM527.31,1176.38h2.11v2.11h-2.11zM529.41,1178.5h2.11v2.11h-2.11zM531.52,1180.61h2.11v2.11h-2.11zM533.63,1182.72h2.11v2.11h-2.11zM535.73,1184.83h2.11v2.11h-2.11zM537.84,1186.94h2.11v2.11h-2.11zM539.95,1189.06h2.11v2.11h-2.11zM542.05,1191.17h2.11v2.11h-2.11zM544.16,1193.28h2.11v2.11h-2.11zM546.27,1195.39h2.11v2.11h-2.11zM548.37,1197.5h2.11v2.11h-2.11zM550.48,1199.62h2.11v2.11h-2.11zM552.59,1201.73h2.11v2.11h-2.11zM554.69,1203.84h2.11v2.11h-2.11zM556.8,1203.84h2.11v2.11h-2.11zM558.91,1205.95h12.64v2.11h-12.64zM571.55,1208.06h12.64v2.11h-12.64zM584.19,1210.18h12.64v2.11h-12.64zM596.83,1212.29h14.75v2.11h-14.75zM611.57,1214.4h12.64v2.11h-12.64zM624.21,1216.51h8.43v2.11h-8.43zM632.64,1216.51h2.11v2.11h-2.11zM634.75,1218.62h4.21v2.11h-4.21zM638.96,1220.74h2.11v2.11h-2.11zM641.07,1222.85h4.21v2.11h-4.21zM645.28,1224.96h4.21v2.11h-4.21zM649.49,1227.07h4.21v2.11h-4.21zM653.71,1229.18h4.21v2.11h-4.21zM657.92,1231.3h4.21v2.11h-4.21zM662.13,1233.41h2.11v2.11h-2.11zM664.24,1235.52h4.21v2.11h-4.21zM668.45,1237.63h4.21v2.11h-4.21zM672.67,1239.74h4.21v2.11h-4.21zM676.88,1241.86h4.21v2.11h-4.21zM681.09,1243.97h4.21v2.11h-4.21zM685.31,1246.08h2.11v2.11h-2.11zM687.41,1248.19h4.21v2.11h-4.21zM691.63,1250.3h4.21v2.11h-4.21zM695.84,1252.42h4.21v2.11h-4.21zM700.05,1254.53h4.21v2.11h-4.21zM704.27,1256.64h4.21v2.11h-4.21zM708.48,1258.75h2.11v2.11h-2.11zM710.59,1256.64h4.21v2.11h-4.21zM714.8,1254.53h6.32v2.11h-6.32zM721.12,1252.42h4.21v2.11h-4.21zM725.33,1250.3h4.21v2.11h-4.21zM729.55,1248.19h6.32v2.11h-6.32zM735.87,1246.08h4.21v2.11h-4.21zM740.08,1243.97h6.32v2.11h-6.32zM746.4,1241.86h4.21v2.11h-4.21zM750.61,1239.74h6.32v2.11h-6.32zM756.93,1237.63h4.21v2.11h-4.21zM761.15,1235.52h6.32v2.11h-6.32zM767.47,1233.41h4.21v2.11h-4.21zM771.68,1231.3h6.32v2.11h-6.32zM778,1229.18h4.21v2.11h-4.21zM782.21,1227.07h2.11v2.11h-2.11zM784.32,1227.07h2.11v2.11h-2.11zM786.43,1229.18h8.43v2.11h-8.43zM794.85,1231.3h8.43v2.11h-8.43zM803.28,1233.41h6.32v2.11h-6.32zM809.6,1235.52h8.43v2.11h-8.43zM818.03,1237.63h8.43v2.11h-8.43zM826.45,1239.74h8.43v2.11h-8.43zM834.88,1241.86h6.32v2.11h-6.32zM841.2,1243.97h8.43v2.11h-8.43zM849.63,1246.08h8.43v2.11h-8.43zM858.05,1248.19h2.11v2.11h-2.11zM860.16,1248.19h75.84v2.11h-75.84zM936,1248.19h4.21v2.11h-4.21zM940.21,1246.08h25.28v2.11h-25.28zM965.49,1243.97h23.17v2.11h-23.17zM988.67,1241.86h23.17v2.11h-23.17zM1011.84,1239.74h2.11v2.11h-2.11zM1013.95,1237.63h4.21v2.11h-4.21zM1018.16,1235.52h2.11v2.11h-2.11zM1020.27,1233.41h2.11v2.11h-2.11zM1022.37,1231.3h2.11v2.11h-2.11zM1024.48,1229.18h4.21v2.11h-4.21zM1028.69,1227.07h2.11v2.11h-2.11zM1030.8,1224.96h2.11v2.11h-2.11zM1032.91,1222.85h2.11v2.11h-2.11zM1035.01,1220.74h4.21v2.11h-4.21zM1039.23,1218.62h2.11v2.11h-2.11zM1041.33,1216.51h2.11v2.11h-2.11zM1043.44,1214.4h2.11v2.11h-2.11zM1045.55,1212.29h4.21v2.11h-4.21zM1049.76,1210.18h2.11v2.11h-2.11zM1051.87,1208.06h2.11v2.11h-2.11zM1053.97,1205.95h4.21v2.11h-4.21zM1058.19,1203.84h2.11v2.11h-2.11zM1060.29,1201.73h2.11v2.11h-2.11zM1062.4,1199.62h2.11v2.11h-2.11zM1064.51,1197.5h4.21v2.11h-4.21zM1068.72,1195.39h2.11v2.11h-2.11zM1070.83,1193.28h2.11v2.11h-2.11zM1072.93,1191.17h2.11v2.11h-2.11zM1075.04,1189.06h4.21v2.11h-4.21zM1079.25,1186.94h2.11v2.11h-2.11zM1081.36,1184.83h2.11v2.11h-2.11zM1083.47,1182.72h2.11v2.11h-2.11zM1085.57,1180.61h2.11v2.11h-2.11zM1087.68,1180.61h2.11v2.11h-2.11zM1089.79,1178.5h2.11v2.11h-2.11zM1091.89,1176.38h2.11v2.11h-2.11zM1094,1174.27h2.11v2.11h-2.11zM1096.11,1172.16h4.21v2.11h-4.21zM1100.32,1170.05h2.11v2.11h-2.11zM1102.43,1167.94h2.11v2.11h-2.11zM1104.53,1165.82h2.11v2.11h-2.11zM1106.64,1163.71h2.11v2.11h-2.11zM1108.75,1161.6h4.21v2.11h-4.21zM1112.96,1159.49h2.11v2.11h-2.11zM1115.07,1157.38h2.11v2.11h-2.11zM1117.17,1155.26h2.11v2.11h-2.11zM1119.28,1153.15h2.11v2.11h-2.11zM1121.39,1151.04h4.21v2.11h-4.21zM1125.6,1148.93h2.11v2.11h-2.11zM1127.71,1146.82h2.11v2.11h-2.11zM1129.81,1144.7h2.11v2.11h-2.11zM1131.92,1142.59h2.11v2.11h-2.11zM1134.03,1140.48h4.21v2.11h-4.21zM1138.24,1138.37h2.11v2.11h-2.11zM1140.35,1136.26h2.11v2.11h-2.11zM1142.45,1134.14h2.11v2.11h-2.11zM1144.56,1132.03h2.11v2.11h-2.11zM1146.67,1129.92h4.21v2.11h-4.21zM1150.88,1127.81h2.11v2.11h-2.11zM1152.99,1125.7h2.11v2.11h-2.11zM1155.09,1123.58h2.11v2.11h-2.11zM1157.2,1121.47h2.11v2.11h-2.11zM1159.31,1119.36h4.21v2.11h-4.21zM1163.71,1114.42h2.11v4.18h-2.11zM1165.82,1112.32h2.11v2.09h-2.11zM1167.94,1110.23h2.11v2.09h-2.11zM1170.05,1106.05h2.11v4.18h-2.11zM1172.16,1103.96h2.11v2.09h-2.11zM1174.27,1101.86h2.11v2.09h-2.11zM1176.38,1097.68h2.11v4.18h-2.11zM1178.5,1095.59h2.11v2.09h-2.11zM1180.61,1091.4h2.11v4.18h-2.11zM1182.72,1089.31h2.11v2.09h-2.11zM1184.83,1087.22h2.11v2.09h-2.11zM1186.94,1083.04h2.11v4.18h-2.11zM1189.06,1080.94h2.11v2.09h-2.11zM1191.17,1076.76h2.11v4.18h-2.11zM1193.28,1074.67h2.11v2.09h-2.11zM1195.39,1072.58h2.11v2.09h-2.11zM1197.5,1068.39h2.11v4.18h-2.11zM1199.62,1066.3h2.11v2.09h-2.11zM1201.73,1062.12h2.11v4.18h-2.11zM1203.84,1060.02h2.11v2.09h-2.11zM1205.95,1057.93h2.11v2.09h-2.11zM1208.06,1053.75h2.11v4.18h-2.11zM1210.18,1051.66h2.11v2.09h-2.11zM1212.29,1047.47h2.11v4.18h-2.11zM1214.4,1045.38h2.11v2.09h-2.11zM1216.51,1043.29h2.11v2.09h-2.11zM1218.62,1039.1h2.11v4.18h-2.11zM1220.74,1037.01h2.11v2.09h-2.11zM1222.85,1032.83h2.11v4.18h-2.11zM1224.96,1030.74h2.11v2.09h-2.11zM1227.07,1028.64h2.11v2.09h-2.11zM1229.18,1024.46h2.11v4.18h-2.11zM1231.3,1022.37h2.11v2.09h-2.11zM1233.41,1020.28h2.11v2.09h-2.11zM1235.52,1016.09h2.11v4.18h-2.11zM1237.63,1014h2.11v2.09h-2.11zM1239.74,1009.79h2.11v4.21h-2.11zM1241.86,1005.59h2.11v4.21h-2.11zM1243.97,1001.38h2.11v4.21h-2.11zM1246.08,997.18h2.11v4.21h-2.11zM1248.19,992.97h2.11v4.21h-2.11zM1250.3,988.77h2.11v4.21h-2.11zM1252.42,984.56h2.11v4.21h-2.11zM1254.53,980.36h2.11v4.21h-2.11zM1256.64,976.15h2.11v4.21h-2.11zM1258.75,971.95h2.11v4.21h-2.11zM1260.86,967.74h2.11v4.21h-2.11zM1262.98,963.54h2.11v4.21h-2.11zM1265.09,959.33h2.11v4.21h-2.11zM1267.2,955.13h2.11v4.21h-2.11zM1269.31,950.92h2.11v4.21h-2.11zM1271.42,946.72h2.11v4.21h-2.11zM1273.54,942.51h2.11v4.21h-2.11zM1275.65,938.31h2.11v4.21h-2.11zM1277.76,934.1h2.11v4.21h-2.11zM1279.87,929.9h2.11v4.21h-2.11zM1281.98,925.69h2.11v4.21h-2.11zM1284.1,921.49h2.11v4.21h-2.11zM1286.21,917.28h2.11v4.21h-2.11zM1288.32,913.08h2.11v4.21h-2.11zM1290.43,908.87h2.11v4.21h-2.11zM1292.54,904.67h2.11v4.21h-2.11zM1294.66,900.46h2.11v4.21h-2.11zM1296.77,896.26h2.11v4.21h-2.11zM1298.88,892.05h2.11v4.21h-2.11zM1300.99,887.85h2.11v4.21h-2.11zM1303.1,883.64h2.11v4.21h-2.11zM1305.22,879.44h2.11v4.21h-2.11zM1307.33,875.23h2.11v4.21h-2.11zM1309.44,871.03h2.11v4.21h-2.11zM1311.55,866.82h2.11v4.21h-2.11zM1313.66,864.72h2.11v2.1h-2.11zM1315.78,860.51h2.11v4.21h-2.11zM1317.89,858.41h2.11v2.1h-2.11zM1320,856.3h2.11v2.1h-2.11zM1322.11,852.1h2.11v4.21h-2.11zM1324.22,849.99h2.11v2.1h-2.11zM1326.34,847.89h2.11v2.1h-2.11zM1328.45,843.68h2.11v4.21h-2.11zM1330.56,841.58h2.11v2.1h-2.11zM1332.67,839.47h2.11v2.1h-2.11zM1334.78,835.27h2.11v4.21h-2.11zM1336.9,833.16h2.11v2.1h-2.11zM1339.01,831.06h2.11v2.1h-2.11zM1341.12,826.85h2.11v4.21h-2.11zM1343.23,824.75h2.11v2.1h-2.11zM1345.34,822.64h2.11v2.1h-2.11zM1347.46,818.44h2.11v4.21h-2.11zM1349.57,816.33h2.11v2.1h-2.11zM1351.68,814.23h2.11v2.1h-2.11zM1353.79,810.02h2.11v4.21h-2.11zM1355.9,807.92h2.11v2.1h-2.11zM1358.02,805.82h2.11v2.1h-2.11zM1360.13,801.61h2.11v4.21h-2.11zM1362.24,799.5h2.11v2.1h-2.11zM1364.35,797.4h2.11v2.1h-2.11zM1366.46,793.19h2.11v4.21h-2.11zM1368.58,791.09h2.11v2.1h-2.11zM1370.69,788.99h2.11v2.1h-2.11zM1372.8,784.78h2.11v4.21h-2.11zM1374.91,782.67h2.11v2.1h-2.11zM1377.02,780.57h2.11v2.1h-2.11zM1379.14,776.36h2.11v4.21h-2.11zM1381.25,774.26h2.11v2.1h-2.11zM1383.36,772.16h2.11v2.1h-2.11zM1385.47,767.95h2.11v4.21h-2.11zM1387.58,765.84h2.11v2.1h-2.11zM1389.7,763.74h2.11v2.1h-2.11zM1391.81,759.49h2.11v4.25h-2.11zM1393.92,757.36h2.11v2.13h-2.11zM1396.03,755.23h2.11v2.13h-2.11zM1398.14,753.11h2.11v2.13h-2.11zM1400.26,748.85h2.11v4.25h-2.11zM1402.37,746.73h2.11v2.13h-2.11zM1404.48,744.6h2.11v2.13h-2.11zM1406.59,742.47h2.11v2.13h-2.11zM1408.7,740.35h2.11v2.13h-2.11zM1410.82,736.09h2.11v4.25h-2.11zM1412.93,733.96h2.11v2.13h-2.11zM1415.04,731.84h2.11v2.13h-2.11zM1417.15,729.71h2.11v2.13h-2.11zM1419.26,725.46h2.11v4.25h-2.11zM1421.38,723.33h2.11v2.13h-2.11zM1423.49,721.2h2.11v2.13h-2.11zM1425.6,719.08h2.11v2.13h-2.11zM1427.71,714.82h2.11v4.25h-2.11zM1429.82,712.7h2.11v2.13h-2.11zM1431.94,710.57h2.11v2.13h-2.11zM1434.05,708.44h2.11v2.13h-2.11zM1436.16,706.32h2.11v2.13h-2.11zM1438.27,702.06h2.11v4.25h-2.11zM1440.38,699.94h2.11v2.13h-2.11zM1442.5,697.81h2.11v2.13h-2.11zM1444.61,695.68h2.11v2.13h-2.11zM1446.72,691.43h2.11v4.25h-2.11zM1448.83,689.3h2.11v2.13h-2.11zM1450.94,687.17h2.11v2.13h-2.11zM1453.06,685.05h2.11v2.13h-2.11zM1455.17,682.92h2.11v2.13h-2.11zM1457.28,678.67h2.11v4.25h-2.11zM1459.39,676.54h2.11v2.13h-2.11zM1461.5,674.41h2.11v2.13h-2.11zM1463.62,672.29h2.11v2.13h-2.11zM1465.73,670.16h2.11v2.13h-2.11zM1465.73,668.03h2.11v2.13h-2.11zM1467.84,665.89h2.11v2.13h-2.11zM1469.95,663.76h2.11v2.13h-2.11zM1472.06,661.63h2.11v2.13h-2.11zM1474.18,659.49h2.11v2.13h-2.11zM1476.29,655.23h2.11v4.27h-2.11zM1478.4,653.09h2.11v2.13h-2.11zM1480.51,650.96h2.11v2.13h-2.11zM1482.62,648.83h2.11v2.13h-2.11zM1484.74,646.69h2.11v2.13h-2.11zM1486.85,642.42h2.11v4.27h-2.11zM1488.96,640.29h2.11v2.13h-2.11zM1491.07,638.16h2.11v2.13h-2.11zM1493.18,636.02h2.11v2.13h-2.11zM1495.3,633.89h2.11v2.13h-2.11zM1497.41,629.62h2.11v4.27h-2.11zM1499.52,627.49h2.11v2.13h-2.11zM1501.63,625.36h2.11v2.13h-2.11zM1503.74,623.22h2.11v2.13h-2.11zM1505.86,621.09h2.11v2.13h-2.11zM1507.97,618.96h2.11v2.13h-2.11zM1510.08,614.69h2.11v4.27h-2.11zM1512.19,612.56h2.11v2.13h-2.11zM1514.3,610.42h2.11v2.13h-2.11zM1516.42,608.29h2.11v2.13h-2.11zM1518.53,606.16h2.11v2.13h-2.11zM1520.64,601.89h2.11v4.27h-2.11zM1522.75,599.75h2.11v2.13h-2.11zM1524.86,597.62h2.11v2.13h-2.11zM1526.98,595.49h2.11v2.13h-2.11zM1529.09,593.35h2.11v2.13h-2.11zM1531.2,589.09h2.11v4.27h-2.11zM1533.31,586.95h2.11v2.13h-2.11zM1535.42,584.82h2.11v2.13h-2.11zM1537.54,582.69h2.11v2.13h-2.11zM1539.65,580.55h2.11v2.13h-2.11zM1541.76,578.42h2.11v2.13h-2.11zM1542.72,578.69h4.21v2.11h-4.21zM1546.93,580.8h6.32v2.11h-6.32zM1553.25,582.91h4.21v2.11h-4.21zM1557.47,585.02h4.21v2.11h-4.21zM1561.68,587.14h4.21v2.11h-4.21zM1565.89,589.25h4.21v2.11h-4.21zM1570.11,591.36h4.21v2.11h-4.21zM1574.32,593.47h6.32v2.11h-6.32zM1580.64,595.58h4.21v2.11h-4.21zM1584.85,597.7h4.21v2.11h-4.21zM1589.07,599.81h4.21v2.11h-4.21zM1593.28,601.92h4.21v2.11h-4.21zM1597.49,604.03h4.21v2.11h-4.21zM1601.71,606.14h6.32v2.11h-6.32zM1608.03,608.26h4.21v2.11h-4.21zM1612.24,610.37h4.21v2.11h-4.21zM1616.45,612.48h2.11v2.11h-2.11zM1618.56,612.48h75.84v2.11h-75.84zM1693.82,613.54h2.11v2.12h-2.11zM1695.94,615.66h2.11v2.12h-2.11zM1698.05,617.79h2.11v2.12h-2.11zM1700.16,619.91h2.11v2.12h-2.11zM1702.27,622.03h2.11v2.12h-2.11zM1704.38,624.16h2.11v2.12h-2.11zM1706.5,626.28h2.11v2.12h-2.11zM1708.61,628.4h2.11v4.25h-2.11zM1710.72,632.65h2.11v2.12h-2.11zM1712.83,634.77h2.11v2.12h-2.11zM1714.94,636.89h2.11v2.12h-2.11zM1717.06,639.02h2.11v2.12h-2.11zM1719.17,641.14h2.11v2.12h-2.11zM1721.28,643.26h2.11v2.12h-2.11zM1723.39,645.39h2.11v2.12h-2.11zM1725.5,647.51h2.11v4.25h-2.11zM1727.62,651.75h2.11v2.12h-2.11zM1729.73,653.88h2.11v2.12h-2.11zM1731.84,656h2.11v2.12h-2.11zM1733.95,658.12h2.11v2.12h-2.11zM1736.06,660.25h2.11v2.12h-2.11zM1738.18,662.37h2.11v2.12h-2.11zM1740.29,664.49h2.11v2.12h-2.11zM1742.4,666.62h2.11v2.12h-2.11zM1744.51,668.74h2.11v4.25h-2.11zM1746.62,672.98h2.11v2.12h-2.11zM1748.74,675.11h2.11v2.12h-2.11zM1750.85,677.23h2.11v2.12h-2.11zM1752.96,679.35h2.11v2.12h-2.11zM1755.07,681.48h2.11v2.12h-2.11zM1757.18,683.6h2.11v2.12h-2.11zM1759.3,685.72h2.11v2.12h-2.11zM1761.41,687.84h2.11v2.12h-2.11zM1763.52,689.97h2.11v4.25h-2.11zM1765.63,694.21h2.11v2.12h-2.11zM1767.74,696.34h2.11v2.12h-2.11zM1770.24,696.96h2.11v2.11h-2.11zM1772.35,699.07h4.21v2.11h-4.21zM1776.56,701.18h6.32v2.11h-6.32zM1782.88,703.3h4.21v2.11h-4.21zM1787.09,705.41h6.32v2.11h-6.32zM1793.41,707.52h4.21v2.11h-4.21zM1797.63,709.63h6.32v2.11h-6.32zM1803.95,711.74h4.21v2.11h-4.21zM1808.16,713.86h6.32v2.11h-6.32zM1814.48,715.97h4.21v2.11h-4.21zM1818.69,718.08h6.32v2.11h-6.32zM1825.01,720.19h4.21v2.11h-4.21zM1829.23,722.3h6.32v2.11h-6.32zM1835.55,724.42h4.21v2.11h-4.21zM1839.76,726.53h6.32v2.11h-6.32zM1845.89,729.03h2.11v2.11h-2.11zM1848,731.14h2.11v2.11h-2.11zM1850.11,733.25h2.11v4.22h-2.11zM1852.22,737.47h2.11v2.11h-2.11zM1854.34,739.58h2.11v2.11h-2.11zM1856.45,741.69h2.11v2.11h-2.11zM1858.56,743.8h2.11v2.11h-2.11zM1860.67,745.9h2.11v4.22h-2.11zM1862.78,750.12h2.11v2.11h-2.11zM1864.9,752.23h2.11v2.11h-2.11zM1867.01,754.34h2.11v2.11h-2.11zM1869.12,756.45h2.11v4.22h-2.11zM1871.23,760.67h2.11v2.11h-2.11zM1873.34,762.78h2.11v2.11h-2.11zM1875.46,764.89h2.11v2.11h-2.11zM1877.57,767h2.11v2.11h-2.11zM1879.68,769.11h2.11v4.22h-2.11zM1881.79,773.33h2.11v2.11h-2.11zM1883.9,775.44h2.11v2.11h-2.11zM1886.02,777.54h2.11v2.11h-2.11zM1888.13,779.65h2.11v4.22h-2.11zM1890.24,783.87h2.11v2.11h-2.11zM1892.35,785.98h2.11v2.11h-2.11zM1894.46,788.09h2.11v2.11h-2.11zM1896.58,790.2h2.11v4.22h-2.11zM1898.69,794.42h2.11v2.11h-2.11zM1900.8,796.53h2.11v2.11h-2.11zM1902.91,798.64h2.11v2.11h-2.11zM1905.02,800.75h2.11v2.11h-2.11zM1907.14,802.86h2.11v4.22h-2.11zM1909.25,807.07h2.11v2.11h-2.11zM1911.36,809.18h2.11v2.11h-2.11zM1913.47,811.29h2.11v2.11h-2.11zM1915.58,813.4h2.11v4.22h-2.11zM1917.7,817.62h2.11v2.11h-2.11zM1919.81,819.73h2.11v2.11h-2.11zM1921.92,821.57h4.21v2.11h-4.21zM1926.13,823.68h4.21v2.11h-4.21zM1930.35,825.79h4.21v2.11h-4.21zM1934.56,827.9h2.11v2.11h-2.11zM1936.67,830.02h4.21v2.11h-4.21zM1940.88,832.13h4.21v2.11h-4.21zM1945.09,834.24h4.21v2.11h-4.21zM1949.31,836.35h4.21v2.11h-4.21zM1953.52,838.46h4.21v2.11h-4.21zM1957.73,840.58h4.21v2.11h-4.21zM1961.95,842.69h4.21v2.11h-4.21zM1966.16,844.8h4.21v2.11h-4.21zM1970.37,846.91h4.21v2.11h-4.21zM1974.59,849.02h4.21v2.11h-4.21zM1978.8,851.14h4.21v2.11h-4.21zM1983.01,853.25h4.21v2.11h-4.21zM1987.23,855.36h2.11v2.11h-2.11zM1989.33,857.47h4.21v2.11h-4.21zM1993.55,859.58h4.21v2.11h-4.21z"/>
<polygon points="246.56,885.6 246.56,887.76 244.4,887.76 244.4,889.92 242.24,889.92 242.24,894.24 240.08,894.24 240.08,902.88 242.24,902.88 242.24,907.2 244.4,907.2 244.4,909.36 246.56,909.36 246.56,911.52 259.52,911.52 259.52,909.36 261.68,909.36 261.68,907.2 263.84,907.2 263.84,902.88 266,902.88 266,894.24 263.84,894.24 263.84,889.92 261.68,889.92 261.68,887.76 259.52,887.76 259.52,885.6" fill="#fe3e3e"/>
<polygon points="322.4,919.32 322.4,921.48 320.24,921.48 320.24,923.64 318.08,923.64 318.08,927.96 315.92,927.96 315.92,936.6 318.08,936.6 318.08,940.92 320.24,940.92 320.24,943.08 322.4,943.08 322.4,945.24 335.36,945.24 335.36,943.08 337.52,943.08 337.52,940.92 339.68,940.92 339.68,936.6 341.84,936.6 341.84,927.96 339.68,927.96 339.68,923.64 337.52,923.64 337.52,921.48 335.36,921.48 335.36,919.32" fill="#fe3e3e"/>
<polygon points="398.24,1047.04 398.24,1049.2 396.08,1049.2 396.08,1051.36 393.92,1051.36 393.92,1055.68 391.76,1055.68 391.76,1064.32 393.92,1064.32 393.92,1068.64 396.08,1068.64 396.08,1070.8 398.24,1070.8 398.24,1072.96 411.2,1072.96 411.2,1070.8 413.36,1070.8 413.36,1068.64 415.52,1068.64 415.52,1064.32 417.68,1064.32 417.68,1055.68 415.52,1055.68 415.52,1051.36 413.36,1051.36 413.36,1049.2 411.2,1049.2 411.2,1047.04" fill="#fe3e3e"/>
<polygon points="474.08,1118.92 474.08,1121.08 471.92,1121.08 471.92,1123.24 469.76,1123.24 469.76,1127.56 467.6,1127.56 467.6,1136.2 469.76,1136.2 469.76,1140.52 471.92,1140.52 471.92,1142.68 474.08,1142.68 474.08,1144.84 487.04,1144.84 487.04,1142.68 489.2,1142.68 489.2,1140.52 491.36,1140.52 491.36,1136.2 493.52,1136.2 493.52,1127.56 491.36,1127.56 491.36,1123.24 489.2,1123.24 489.2,1121.08 487.04,1121.08 487.04,1118.92" fill="#fe3e3e"/>
<polygon points="549.92,1192.3 549.92,1194.46 547.76,1194.46 547.76,1196.62 545.6,1196.62 545.6,1200.94 543.44,1200.94 543.44,1209.58 545.6,1209.58 545.6,1213.9 547.76,1213.9 547.76,1216.06 549.92,1216.06 549.92,1218.22 562.88,1218.22 562.88,1216.06 565.04,1216.06 565.04,1213.9 567.2,1213.9 567.2,1209.58 569.36,1209.58 569.36,1200.94 567.2,1200.94 567.2,1196.62 565.04,1196.62 565.04,1194.46 562.88,1194.46 562.88,1192.3" fill="#fe3e3e"/>
<polygon points="625.76,1204.39 625.76,1206.55 623.6,1206.55 623.6,1208.71 621.44,1208.71 621.44,1213.03 619.28,1213.03 619.28,1221.67 621.44,1221.67 621.44,1225.99 623.6,1225.99 623.6,1228.15 625.76,1228.15 625.76,1230.31 638.72,1230.31 638.72,1228.15 640.88,1228.15 640.88,1225.99 643.04,1225.99 643.04,1221.67 645.2,1221.67 645.2,1213.03 643.04,1213.03 643.04,1208.71 640.88,1208.71 640.88,1206.55 638.72,1206.55 638.72,1204.39" fill="#fe3e3e"/>
<polygon points="701.6,1245.8 701.6,1247.96 699.44,1247.96 699.44,1250.12 697.28,1250.12 697.28,1254.44 695.12,1254.44 695.12,1263.08 697.28,1263.08 697.28,1267.4 699.44,1267.4 699.44,1269.56 701.6,1269.56 701.6,1271.72 714.56,1271.72 714.56,1269.56 716.72,1269.56 716.72,1267.4 718.88,1267.4 718.88,1263.08 721.04,1263.08 721.04,1254.44 718.88,1254.44 718.88,1250.12 716.72,1250.12 716.72,1247.96 714.56,1247.96 714.56,1245.8" fill="#fe3e3e"/>
<polygon points="777.44,1215.08 777.44,1217.24 775.28,1217.24 775.28,1219.4 773.12,1219.4 773.12,1223.72 770.96,1223.72 770.96,1232.36 773.12,1232.36 773.12,1236.68 775.28,1236.68 775.28,1238.84 777.44,1238.84 777.44,1241 790.4,1241 790.4,1238.84 792.56,1238.84 792.56,1236.68 794.72,1236.68 794.72,1232.36 796.88,1232.36 796.88,1223.72 794.72,1223.72 794.72,1219.4 792.56,1219.4 792.56,1217.24 790.4,1217.24 790.4,1215.08" fill="#fe3e3e"/>
<polygon points="853.28,1235.31 853.28,1237.47 851.12,1237.47 851.12,1239.63 848.96,1239.63 848.96,1243.95 846.8,1243.95 846.8,1252.59 848.96,1252.59 848.96,1256.91 851.12,1256.91 851.12,1259.07 853.28,1259.07 853.28,1261.23 866.24,1261.23 866.24,1259.07 868.4,1259.07 868.4,1256.91 870.56,1256.91 870.56,1252.59 872.72,1252.59 872.72,1243.95 870.56,1243.95 870.56,1239.63 868.4,1239.63 868.4,1237.47 866.24,1237.47 866.24,1235.31" fill="#fe3e3e"/>
<polygon points="929.12,1235.16 929.12,1237.32 926.96,1237.32 926.96,1239.48 924.8,1239.48 924.8,1243.8 922.64,1243.8 922.64,1252.44 924.8,1252.44 924.8,1256.76 926.96,1256.76 926.96,1258.92 929.12,1258.92 929.12,1261.08 942.08,1261.08 942.08,1258.92 944.24,1258.92 944.24,1256.76 946.4,1256.76 946.4,1252.44 948.56,1252.44 948.56,1243.8 946.4,1243.8 946.4,1239.48 944.24,1239.48 944.24,1237.32 942.08,1237.32 942.08,1235.16" fill="#fe3e3e"/>
<polygon points="1004.96,1228.44 1004.96,1230.6 1002.8,1230.6 1002.8,1232.76 1000.64,1232.76 1000.64,1237.08 998.48,1237.08 998.48,1245.72 1000.64,1245.72 1000.64,1250.04 1002.8,1250.04 1002.8,1252.2 1004.96,1252.2 1004.96,1254.36 1017.92,1254.36 1017.92,1252.2 1020.08,1252.2 1020.08,1250.04 1022.24,1250.04 1022.24,1245.72 1024.4,1245.72 1024.4,1237.08 1022.24,1237.08 1022.24,1232.76 1020.08,1232.76 1020.08,1230.6 1017.92,1230.6 1017.92,1228.44" fill="#fe3e3e"/>
<polygon points="1080.8,1168.4 1080.8,1170.56 1078.64,1170.56 1078.64,1172.72 1076.48,1172.72 1076.48,1177.04 1074.32,1177.04 1074.32,1185.68 1076.48,1185.68 1076.48,1190 1078.64,1190 1078.64,1192.16 1080.8,1192.16 1080.8,1194.32 1093.76,1194.32 1093.76,1192.16 1095.92,1192.16 1095.92,1190 1098.08,1190 1098.08,1185.68 1100.24,1185.68 1100.24,1177.04 1098.08,1177.04 1098.08,1172.72 1095.92,1172.72 1095.92,1170.56 1093.76,1170.56 1093.76,1168.4" fill="#fe3e3e"/>
<polygon points="1156.64,1105.14 1156.64,1107.3 1154.48,1107.3 1154.48,1109.46 1152.32,1109.46 1152.32,1113.78 1150.16,1113.78 1150.16,1122.42 1152.32,1122.42 1152.32,1126.74 1154.48,1126.74 1154.48,1128.9 1156.64,1128.9 1156.64,1131.06 1169.6,1131.06 1169.6,1128.9 1171.76,1128.9 1171.76,1126.74 1173.92,1126.74 1173.92,1122.42 1176.08,1122.42 1176.08,1113.78 1173.92,1113.78 1173.92,1109.46 1171.76,1109.46 1171.76,1107.3 1169.6,1107.3 1169.6,1105.14" fill="#fe3e3e"/>
<polygon points="1232.48,1000.54 1232.48,1002.7 1230.32,1002.7 1230.32,1004.86 1228.16,1004.86 1228.16,1009.18 1226,1009.18 1226,1017.82 1228.16,1017.82 1228.16,1022.14 1230.32,1022.14 1230.32,1024.3 1232.48,1024.3 1232.48,1026.46 1245.44,1026.46 1245.44,1024.3 1247.6,1024.3 1247.6,1022.14 1249.76,1022.14 1249.76,1017.82 1251.92,1017.82 1251.92,1009.18 1249.76,1009.18 1249.76,1004.86 1247.6,1004.86 1247.6,1002.7 1245.44,1002.7 1245.44,1000.54" fill="#fe3e3e"/>
<polygon points="1308.32,851.26 1308.32,853.42 1306.16,853.42 1306.16,855.58 1304,855.58 1304,859.9 1301.84,859.9 1301.84,868.54 1304,868.54 1304,872.86 1306.16,872.86 1306.16,875.02 1308.32,875.02 1308.32,877.18 1321.28,877.18 1321.28,875.02 1323.44,875.02 1323.44,872.86 1325.6,872.86 1325.6,868.54 1327.76,868.54 1327.76,859.9 1325.6,859.9 1325.6,855.58 1323.44,855.58 1323.44,853.42 1321.28,853.42 1321.28,851.26" fill="#fe3e3e"/>
<polygon points="1384.16,750.28 1384.16,752.44 1382,752.44 1382,754.6 1379.84,754.6 1379.84,758.92 1377.68,758.92 1377.68,767.56 1379.84,767.56 1379.84,771.88 1382,771.88 1382,774.04 1384.16,774.04 1384.16,776.2 1397.12,776.2 1397.12,774.04 1399.28,774.04 1399.28,771.88 1401.44,771.88 1401.44,767.56 1403.6,767.56 1403.6,758.92 1401.44,758.92 1401.44,754.6 1399.28,754.6 1399.28,752.44 1397.12,752.44 1397.12,750.28" fill="#fe3e3e"/>
<polygon points="1460,656.7 1460,658.86 1457.84,658.86 1457.84,661.02 1455.68,661.02 1455.68,665.34 1453.52,665.34 1453.52,673.98 1455.68,673.98 1455.68,678.3 1457.84,678.3 1457.84,680.46 1460,680.46 1460,682.62 1472.96,682.62 1472.96,680.46 1475.12,680.46 1475.12,678.3 1477.28,678.3 1477.28,673.98 1479.44,673.98 1479.44,665.34 1477.28,665.34 1477.28,661.02 1475.12,661.02 1475.12,658.86 1472.96,658.86 1472.96,656.7" fill="#fe3e3e"/>
<polygon points="1535.84,564.96 1535.84,567.12 1533.68,567.12 1533.68,569.28 1531.52,569.28 1531.52,573.6 1529.36,573.6 1529.36,582.24 1531.52,582.24 1531.52,586.56 1533.68,586.56 1533.68,588.72 1535.84,588.72 1535.84,590.88 1548.8,590.88 1548.8,588.72 1550.96,588.72 1550.96,586.56 1553.12,586.56 1553.12,582.24 1555.28,582.24 1555.28,573.6 1553.12,573.6 1553.12,569.28 1550.96,569.28 1550.96,567.12 1548.8,567.12 1548.8,564.96" fill="#fe3e3e"/>
<polygon points="1611.68,600.08 1611.68,602.24 1609.52,602.24 1609.52,604.4 1607.36,604.4 1607.36,608.72 1605.2,608.72 1605.2,617.36 1607.36,617.36 1607.36,621.68 1609.52,621.68 1609.52,623.84 1611.68,623.84 1611.68,626 1624.64,626 1624.64,623.84 1626.8,623.84 1626.8,621.68 1628.96,621.68 1628.96,617.36 1631.12,617.36 1631.12,608.72 1628.96,608.72 1628.96,604.4 1626.8,604.4 1626.8,602.24 1624.64,602.24 1624.64,600.08" fill="#fe3e3e"/>
<polygon points="1687.52,600.08 1687.52,602.24 1685.36,602.24 1685.36,604.4 1683.2,604.4 1683.2,608.72 1681.04,608.72 1681.04,617.36 1683.2,617.36 1683.2,621.68 1685.36,621.68 1685.36,623.84 1687.52,623.84 1687.52,626 1700.48,626 1700.48,623.84 1702.64,623.84 1702.64,621.68 1704.8,621.68 1704.8,617.36 1706.96,617.36 1706.96,608.72 1704.8,608.72 1704.8,604.4 1702.64,604.4 1702.64,602.24 1700.48,602.24 1700.48,600.08" fill="#fe3e3e"/>
<polygon points="1763.36,685 1763.36,687.16 1761.2,687.16 1761.2,689.32 1759.04,689.32 1759.04,693.64 1756.88,693.64 1756.88,702.28 1759.04,702.28 1759.04,706.6 1761.2,706.6 1761.2,708.76 1763.36,708.76 1763.36,710.92 1776.32,710.92 1776.32,708.76 1778.48,708.76 1778.48,706.6 1780.64,706.6 1780.64,702.28 1782.8,702.28 1782.8,693.64 1780.64,693.64 1780.64,689.32 1778.48,689.32 1778.48,687.16 1776.32,687.16 1776.32,685" fill="#fe3e3e"/>
<polygon points="1839.2,715.57 1839.2,717.73 1837.04,717.73 1837.04,719.89 1834.88,719.89 1834.88,724.21 1832.72,724.21 1832.72,732.85 1834.88,732.85 1834.88,737.17 1837.04,737.17 1837.04,739.33 1839.2,739.33 1839.2,741.49 1852.16,741.49 1852.16,739.33 1854.32,739.33 1854.32,737.17 1856.48,737.17 1856.48,732.85 1858.64,732.85 1858.64,724.21 1856.48,724.21 1856.48,719.89 1854.32,719.89 1854.32,717.73 1852.16,717.73 1852.16,715.57" fill="#fe3e3e"/>
<polygon points="1915.04,808.38 1915.04,810.54 1912.88,810.54 1912.88,812.7 1910.72,812.7 1910.72,817.02 1908.56,817.02 1908.56,825.66 1910.72,825.66 1910.72,829.98 1912.88,829.98 1912.88,832.14 1915.04,832.14 1915.04,834.3 1928,834.3 1928,832.14 1930.16,832.14 1930.16,829.98 1932.32,829.98 1932.32,825.66 1934.48,825.66 1934.48,817.02 1932.32,817.02 1932.32,812.7 1930.16,812.7 1930.16,810.54 1928,810.54 1928,808.38" fill="#fe3e3e"/>
<polygon points="1990.88,847.94 1990.88,850.1 1988.72,850.1 1988.72,852.26 1986.56,852.26 1986.56,856.58 1984.4,856.58 1984.4,865.22 1986.56,865.22 1986.56,869.54 1988.72,869.54 1988.72,871.7 1990.88,871.7 1990.88,873.86 2003.84,873.86 2003.84,871.7 2006,871.7 2006,869.54 2008.16,869.54 2008.16,865.22 2010.32,865.22 2010.32,856.58 2008.16,856.58 2008.16,852.26 2006,852.26 2006,850.1 2003.84,850.1 2003.84,847.94" fill="#fe3e3e"/>
</g>
<g stroke-linecap="butt">
<path fill="#0072e4" d="M253.44,836.35h4.21v2.11h-4.21zM257.65,838.46h4.21v2.11h-4.21zM261.87,840.58h2.11v2.11h-2.11zM263.97,842.69h4.21v2.11h-4.21zM268.19,844.8h4.21v2.11h-4.21zM272.4,846.91h2.11v2.11h-2.11zM274.51,849.02h4.21v2.11h-4.21zM278.72,851.14h4.21v2.11h-4.21zM282.93,853.25h2.11v2.11h-2.11zM285.04,855.36h4.21v2.11h-4.21zM289.25,857.47h4.21v2.11h-4.21zM293.47,859.58h2.11v2.11h-2.11zM295.57,861.7h4.21v2.11h-4.21zM299.79,863.81h4.21v2.11h-4.21zM304,865.92h2.11v2.11h-2.11zM306.11,868.03h4.21v2.11h-4.21zM310.32,870.14h4.21v2.11h-4.21zM314.53,872.26h2.11v2.11h-2.11zM316.64,874.37h4.21v2.11h-4.21zM320.85,876.48h4.21v2.11h-4.21zM325.07,878.59h2.11v2.11h-2.11zM327.17,880.7h2.11v2.11h-2.11zM329.47,881.58h2.11v4.22h-2.11zM331.58,885.8h2.11v2.11h-2.11zM333.7,887.91h2.11v4.22h-2.11zM335.81,892.13h2.11v2.11h-2.11zM337.92,894.24h2.11v4.22h-2.11zM340.03,898.46h2.11v2.11h-2.11zM342.14,900.57h2.11v4.22h-2.11zM344.26,904.79h2.11v2.11h-2.11zM346.37,906.9h2.11v4.22h-2.11zM348.48,911.12h2.11v2.11h-2.11zM350.59,913.23h2.11v4.22h-2.11zM352.7,917.45h2.11v2.11h-2.11zM354.82,919.56h2.11v4.22h-2.11zM356.93,923.78h2.11v2.11h-2.11zM359.04,925.89h2.11v4.22h-2.11zM361.15,930.11h2.11v2.11h-2.11zM363.26,932.22h2.11v4.22h-2.11zM365.38,936.44h2.11v2.11h-2.11zM367.49,938.55h2.11v4.22h-2.11zM369.6,942.77h2.11v2.11h-2.11zM371.71,944.88h2.11v4.22h-2.11zM373.82,949.1h2.11v2.11h-2.11zM375.94,951.21h2.11v4.22h-2.11zM378.05,955.43h2.11v2.11h-2.11zM380.16,957.54h2.11v4.22h-2.11zM382.27,961.76h2.11v2.11h-2.11zM384.38,963.87h2.11v4.22h-2.11zM386.5,968.09h2.11v2.11h-2.11zM388.61,970.2h2.11v4.22h-2.11zM390.72,974.42h2.11v2.11h-2.11zM392.83,976.53h2.11v4.22h-2.11zM394.94,980.75h2.11v2.11h-2.11zM397.06,982.86h2.11v4.22h-2.11zM399.17,987.08h2.11v2.11h-2.11zM401.28,989.19h2.11v4.22h-2.11zM403.39,993.41h2.11v2.11h-2.11zM405.12,994.75h2.11v2.11h-2.11zM407.23,996.86h2.11v2.11h-2.11zM409.33,998.98h4.21v2.11h-4.21zM413.55,1001.09h4.21v2.11h-4.21zM417.76,1003.2h2.11v2.11h-2.11zM419.87,1005.31h4.21v2.11h-4.21zM424.08,1007.42h2.11v2.11h-2.11zM426.19,1009.54h4.21v2.11h-4.21zM430.4,1011.65h2.11v2.11h-2.11zM432.51,1013.76h4.21v2.11h-4.21zM436.72,1015.87h2.11v2.11h-2.11zM438.83,1017.98h4.21v2.11h-4.21zM443.04,1020.1h2.11v2.11h-2.11zM445.15,1022.21h4.21v2.11h-4.21zM449.36,1024.32h2.11v2.11h-2.11zM451.47,1026.43h4.21v2.11h-4.21zM455.68,1028.54h2.11v2.11h-2.11zM457.79,1030.66h4.21v2.11h-4.21zM462,1032.77h2.11v2.11h-2.11zM464.11,1034.88h4.21v2.11h-4.21zM468.32,1036.99h4.21v2.11h-4.21zM472.53,1039.1h2.11v2.11h-2.11zM474.64,1041.22h4.21v2.11h-4.21zM478.85,1043.33h2.11v2.11h-2.11zM480.96,1045.44h10.53v2.11h-10.53zM491.49,1047.55h8.43v2.11h-8.43zM499.92,1049.66h8.43v2.11h-8.43zM508.35,1051.78h10.53v2.11h-10.53zM518.88,1053.89h8.43v2.11h-8.43zM527.31,1056h8.43v2.11h-8.43zM535.73,1058.11h10.53v2.11h-10.53zM546.27,1060.22h8.43v2.11h-8.43zM554.69,1062.34h2.11v2.11h-2.11zM556.8,1062.34h4.21v2.11h-4.21zM561.01,1064.45h4.21v2.11h-4.21zM565.23,1066.56h6.32v2.11h-6.32zM571.55,1068.67h4.21v2.11h-4.21zM575.76,1070.78h6.32v2.11h-6.32zM582.08,1072.9h4.21v2.11h-4.21zM586.29,1075.01h6.32v2.11h-6.32zM592.61,1077.12h4.21v2.11h-4.21zM596.83,1079.23h4.21v2.11h-4.21zM601.04,1081.34h6.32v2.11h-6.32zM607.36,1083.46h4.21v2.11h-4.21zM611.57,1085.57h6.32v2.11h-6.32zM617.89,1087.68h4.21v2.11h-4.21zM622.11,1089.79h6.32v2.11h-6.32zM628.43,1091.9h4.21v2.11h-4.21zM632.64,1094.02h4.21v2.11h-4.21zM636.85,1096.13h4.21v2.11h-4.21zM641.07,1098.24h4.21v2.11h-4.21zM645.28,1100.35h4.21v2.11h-4.21zM649.49,1102.46h2.11v2.11h-2.11zM651.6,1104.58h4.21v2.11h-4.21zM655.81,1106.69h4.21v2.11h-4.21zM660.03,1108.8h4.21v2.11h-4.21zM664.24,1110.91h4.21v2.11h-4.21zM668.45,1113.02h4.21v2.11h-4.21zM672.67,1115.14h4.21v2.11h-4.21zM676.88,1117.25h2.11v2.11h-2.11zM678.99,1119.36h4.21v2.11h-4.21zM683.2,1121.47h4.21v2.11h-4.21zM687.41,1123.58h4.21v2.11h-4.21zM691.63,1125.7h4.21v2.11h-4.21zM695.84,1127.81h4.21v2.11h-4.21zM700.05,1129.92h4.21v2.11h-4.21zM704.27,1132.03h4.21v2.11h-4.21zM708.48,1134.14h2.11v2.11h-2.11zM710.59,1136.26h2.11v2.11h-2.11zM712.69,1138.37h4.21v2.11h-4.21zM716.91,1140.48h2.11v2.11h-2.11zM719.01,1142.59h2.11v2.11h-2.11zM721.12,1144.7h2.11v2.11h-2.11zM723.23,1146.82h4.21v2.11h-4.21zM727.44,1148.93h2.11v2.11h-2.11zM729.55,1151.04h2.11v2.11h-2.11zM731.65,1153.15h4.21v2.11h-4.21zM735.87,1155.26h2.11v2.11h-2.11zM737.97,1157.38h2.11v2.11h-2.11zM740.08,1159.49h2.11v2.11h-2.11zM742.19,1161.6h4.21v2.11h-4.21zM746.4,1163.71h2.11v2.11h-2.11zM748.51,1165.82h2.11v2.11h-2.11zM750.61,1167.94h4.21v2.11h-4.21zM754.83,1170.05h2.11v2.11h-2.11zM756.93,1172.16h2.11v2.11h-2.11zM759.04,1174.27h2.11v2.11h-2.11zM761.15,1176.38h4.21v2.11h-4.21zM765.36,1178.5h2.11v2.11h-2.11zM767.47,1180.61h2.11v2.11h-2.11zM769.57,1182.72h4.21v2.11h-4.21zM773.79,1184.83h2.11v2.11h-2.11zM775.89,1186.94h2.11v2.11h-2.11zM778,1189.06h2.11v2.11h-2.11zM780.11,1191.17h4.21v2.11h-4.21zM783.55,1193.82h2.11v2.12h-2.11zM785.66,1195.94h2.11v2.12h-2.11zM787.78,1198.07h2.11v2.12h-2.11zM789.89,1200.19h2.11v2.12h-2.11zM792,1202.31h2.11v2.12h-2.11zM794.11,1204.43h2.11v2.12h-2.11zM796.22,1206.56h2.11v2.12h-2.11zM798.34,1208.68h2.11v4.25h-2.11zM800.45,1212.93h2.11v2.12h-2.11zM802.56,1215.05h2.11v2.12h-2.11zM804.67,1217.17h2.11v2.12h-2.11zM806.78,1219.3h2.11v2.12h-2.11zM808.9,1221.42h2.11v2.12h-2.11zM811.01,1223.54h2.11v2.12h-2.11zM813.12,1225.66h2.11v2.12h-2.11zM815.23,1227.79h2.11v2.12h-2.11zM817.34,1229.91h2.11v4.25h-2.11zM819.46,1234.16h2.11v2.12h-2.11zM821.57,1236.28h2.11v2.12h-2.11zM823.68,1238.4h2.11v2.12h-2.11zM825.79,1240.53h2.11v2.12h-2.11zM827.9,1242.65h2.11v2.12h-2.11zM830.02,1244.77h2.11v2.12h-2.11zM832.13,1246.89h2.11v2.12h-2.11zM834.24,1249.02h2.11v2.12h-2.11zM836.35,1251.14h2.11v4.25h-2.11zM838.46,1255.39h2.11v2.12h-2.11zM840.58,1257.51h2.11v2.12h-2.11zM842.69,1259.63h2.11v2.12h-2.11zM844.8,1261.76h2.11v2.12h-2.11zM846.91,1263.88h2.11v2.12h-2.11zM849.02,1266h2.11v2.12h-2.11zM851.14,1268.13h2.11v2.12h-2.11zM853.25,1270.25h2.11v2.12h-2.11zM855.36,1272.37h2.11v4.25h-2.11zM857.47,1276.62h2.11v2.12h-2.11zM860.16,1277.76h6.32v2.11h-6.32zM866.48,1275.65h14.75v2.11h-14.75zM881.23,1273.54h14.75v2.11h-14.75zM895.97,1271.42h16.85v2.11h-16.85zM912.83,1269.31h14.75v2.11h-14.75zM927.57,1267.2h8.43v2.11h-8.43zM936,1267.2h75.84v2.11h-75.84zM1011.84,1267.2h6.32v2.11h-6.32zM1018.16,1265.09h16.85v2.11h-16.85zM1035.01,1262.98h18.96v2.11h-18.96zM1053.97,1260.86h16.85v2.11h-16.85zM1070.83,1258.75h16.85v2.11h-16.85zM1087.68,1256.64h14.75v2.11h-14.75zM1102.43,1254.53h16.85v2.11h-16.85zM1119.28,1252.42h14.75v2.11h-14.75zM1134.03,1250.3h14.75v2.11h-14.75zM1148.77,1248.19h14.75v2.11h-14.75zM1163.52,1248.19h4.21v2.11h-4.21zM1167.73,1246.08h42.13v2.11h-42.13zM1209.87,1243.97h29.49v2.11h-29.49zM1239.74,1242.43h2.11v2.09h-2.11zM1241.86,1238.26h2.11v4.17h-2.11zM1243.97,1236.17h2.11v2.09h-2.11zM1246.08,1234.08h2.11v2.09h-2.11zM1248.19,1232h2.11v2.09h-2.11zM1250.3,1229.91h2.11v2.09h-2.11zM1252.42,1227.82h2.11v2.09h-2.11zM1254.53,1223.65h2.11v4.17h-2.11zM1256.64,1221.56h2.11v2.09h-2.11zM1258.75,1219.47h2.11v2.09h-2.11zM1260.86,1217.39h2.11v2.09h-2.11zM1262.98,1215.3h2.11v2.09h-2.11zM1265.09,1213.21h2.11v2.09h-2.11zM1267.2,1209.04h2.11v4.17h-2.11zM1269.31,1206.95h2.11v2.09h-2.11zM1271.42,1204.86h2.11v2.09h-2.11zM1273.54,1202.78h2.11v2.09h-2.11zM1275.65,1200.69h2.11v2.09h-2.11zM1277.76,1198.6h2.11v2.09h-2.11zM1279.87,1194.43h2.11v4.17h-2.11zM1281.98,1192.34h2.11v2.09h-2.11zM1284.1,1190.25h2.11v2.09h-2.11zM1286.21,1188.17h2.11v2.09h-2.11zM1288.32,1186.08h2.11v2.09h-2.11zM1290.43,1183.99h2.11v2.09h-2.11zM1292.54,1179.82h2.11v4.17h-2.11zM1294.66,1177.73h2.11v2.09h-2.11zM1296.77,1175.64h2.11v2.09h-2.11zM1298.88,1173.56h2.11v2.09h-2.11zM1300.99,1171.47h2.11v2.09h-2.11zM1303.1,1169.38h2.11v2.09h-2.11zM1305.22,1165.21h2.11v4.17h-2.11zM1307.33,1163.12h2.11v2.09h-2.11zM1309.44,1161.03h2.11v2.09h-2.11zM1311.55,1158.95h2.11v2.09h-2.11zM1313.66,1156.86h2.11v2.09h-2.11zM1315.78,1152.63h2.11v4.23h-2.11zM1317.89,1148.39h2.11v4.23h-2.11zM1320,1144.16h2.11v4.23h-2.11zM1322.11,1139.92h2.11v4.23h-2.11zM1324.22,1135.69h2.11v4.23h-2.11zM1326.34,1133.57h2.11v2.12h-2.11zM1328.45,1129.34h2.11v4.23h-2.11zM1330.56,1125.1h2.11v4.23h-2.11zM1332.67,1120.87h2.11v4.23h-2.11zM1334.78,1116.63h2.11v4.23h-2.11zM1336.9,1114.52h2.11v2.12h-2.11zM1339.01,1110.28h2.11v4.23h-2.11zM1341.12,1106.05h2.11v4.23h-2.11zM1343.23,1101.81h2.11v4.23h-2.11zM1345.34,1097.58h2.11v4.23h-2.11zM1347.46,1095.46h2.11v2.12h-2.11zM1349.57,1091.23h2.11v4.23h-2.11zM1351.68,1086.99h2.11v4.23h-2.11zM1353.79,1082.76h2.11v4.23h-2.11zM1355.9,1078.52h2.11v4.23h-2.11zM1358.02,1074.29h2.11v4.23h-2.11zM1360.13,1072.17h2.11v2.12h-2.11zM1362.24,1067.94h2.11v4.23h-2.11zM1364.35,1063.7h2.11v4.23h-2.11zM1366.46,1059.47h2.11v4.23h-2.11zM1368.58,1055.23h2.11v4.23h-2.11zM1370.69,1053.12h2.11v2.12h-2.11zM1372.8,1048.88h2.11v4.23h-2.11zM1374.91,1044.65h2.11v4.23h-2.11zM1377.02,1040.41h2.11v4.23h-2.11zM1379.14,1036.18h2.11v4.23h-2.11zM1381.25,1034.06h2.11v2.12h-2.11zM1383.36,1029.83h2.11v4.23h-2.11zM1385.47,1025.59h2.11v4.23h-2.11zM1387.58,1021.36h2.11v4.23h-2.11zM1389.7,1019.24h2.11v2.12h-2.11zM1391.81,1014.97h2.11v4.27h-2.11zM1393.92,1012.84h2.11v2.13h-2.11zM1396.03,1010.71h2.11v2.13h-2.11zM1398.14,1008.57h2.11v2.13h-2.11zM1400.26,1006.44h2.11v2.13h-2.11zM1402.37,1004.31h2.11v2.13h-2.11zM1404.48,1002.17h2.11v2.13h-2.11zM1406.59,997.91h2.11v4.27h-2.11zM1408.7,995.78h2.11v2.13h-2.11zM1410.82,993.64h2.11v2.13h-2.11zM1412.93,991.51h2.11v2.13h-2.11zM1415.04,989.38h2.11v2.13h-2.11zM1417.15,987.24h2.11v2.13h-2.11zM1419.26,985.11h2.11v2.13h-2.11zM1421.38,980.84h2.11v4.27h-2.11zM1423.49,978.71h2.11v2.13h-2.11zM1425.6,976.58h2.11v2.13h-2.11zM1427.71,974.44h2.11v2.13h-2.11zM1429.82,972.31h2.11v2.13h-2.11zM1431.94,970.18h2.11v2.13h-2.11zM1434.05,968.04h2.11v2.13h-2.11zM1436.16,963.78h2.11v4.27h-2.11zM1438.27,961.64h2.11v2.13h-2.11zM1440.38,959.51h2.11v2.13h-2.11zM1442.5,957.38h2.11v2.13h-2.11zM1444.61,955.24h2.11v2.13h-2.11zM1446.72,953.11h2.11v2.13h-2.11zM1448.83,950.98h2.11v2.13h-2.11zM1450.94,946.71h2.11v4.27h-2.11zM1453.06,944.58h2.11v2.13h-2.11zM1455.17,942.45h2.11v2.13h-2.11zM1457.28,940.31h2.11v2.13h-2.11zM1459.39,938.18h2.11v2.13h-2.11zM1461.5,936.05h2.11v2.13h-2.11zM1463.62,933.91h2.11v2.13h-2.11zM1465.73,931.78h2.11v2.13h-2.11zM1465.73,929.67h2.11v2.11h-2.11zM1467.84,925.46h2.11v4.21h-2.11zM1469.95,921.25h2.11v4.21h-2.11zM1472.06,917.04h2.11v4.21h-2.11zM1474.18,912.83h2.11v4.21h-2.11zM1476.29,910.73h2.11v2.11h-2.11zM1478.4,906.52h2.11v4.21h-2.11zM1480.51,902.31h2.11v4.21h-2.11zM1482.62,898.1h2.11v4.21h-2.11zM1484.74,893.89h2.11v4.21h-2.11zM1486.85,889.68h2.11v4.21h-2.11zM1488.96,885.47h2.11v4.21h-2.11zM1491.07,881.25h2.11v4.21h-2.11zM1493.18,877.04h2.11v4.21h-2.11zM1495.3,872.83h2.11v4.21h-2.11zM1497.41,868.62h2.11v4.21h-2.11zM1499.52,864.41h2.11v4.21h-2.11zM1501.63,860.2h2.11v4.21h-2.11zM1503.74,858.1h2.11v2.11h-2.11zM1505.86,853.89h2.11v4.21h-2.11zM1507.97,849.68h2.11v4.21h-2.11zM1510.08,845.47h2.11v4.21h-2.11zM1512.19,841.26h2.11v4.21h-2.11zM1514.3,837.05h2.11v4.21h-2.11zM1516.42,832.83h2.11v4.21h-2.11zM1518.53,828.62h2.11v4.21h-2.11zM1520.64,824.41h2.11v4.21h-2.11zM1522.75,820.2h2.11v4.21h-2.11zM1524.86,815.99h2.11v4.21h-2.11zM1526.98,811.78h2.11v4.21h-2.11zM1529.09,807.57h2.11v4.21h-2.11zM1531.2,805.47h2.11v2.11h-2.11zM1533.31,801.26h2.11v4.21h-2.11zM1535.42,797.05h2.11v4.21h-2.11zM1537.54,792.84h2.11v4.21h-2.11zM1539.65,788.63h2.11v4.21h-2.11zM1541.76,786.52h2.11v2.11h-2.11zM1542.72,783.55h4.21v2.11h-4.21zM1546.93,781.44h2.11v2.11h-2.11zM1549.04,779.33h2.11v2.11h-2.11zM1551.15,777.22h2.11v2.11h-2.11zM1553.25,775.1h2.11v2.11h-2.11zM1555.36,772.99h2.11v2.11h-2.11zM1557.47,770.88h2.11v2.11h-2.11zM1559.57,768.77h2.11v2.11h-2.11zM1561.68,766.66h2.11v2.11h-2.11zM1563.79,764.54h2.11v2.11h-2.11zM1565.89,762.43h2.11v2.11h-2.11zM1568,760.32h2.11v2.11h-2.11zM1570.11,758.21h2.11v2.11h-2.11zM1572.21,756.1h2.11v2.11h-2.11zM1574.32,753.98h4.21v2.11h-4.21zM1578.53,751.87h2.11v2.11h-2.11zM1580.64,749.76h2.11v2.11h-2.11zM1582.75,747.65h2.11v2.11h-2.11zM1584.85,745.54h2.11v2.11h-2.11zM1586.96,743.42h2.11v2.11h-2.11zM1589.07,741.31h2.11v2.11h-2.11zM1591.17,739.2h2.11v2.11h-2.11zM1593.28,737.09h2.11v2.11h-2.11zM1595.39,734.98h2.11v2.11h-2.11zM1597.49,732.86h2.11v2.11h-2.11zM1599.6,730.75h2.11v2.11h-2.11zM1601.71,728.64h2.11v2.11h-2.11zM1603.81,726.53h2.11v2.11h-2.11zM1605.92,724.42h4.21v2.11h-4.21zM1610.13,722.3h2.11v2.11h-2.11zM1612.24,720.19h2.11v2.11h-2.11zM1614.35,718.08h2.11v2.11h-2.11zM1616.45,715.97h2.11v2.11h-2.11zM1618.56,713.86h2.11v2.11h-2.11zM1620.67,715.97h12.64v2.11h-12.64zM1633.31,718.08h10.53v2.11h-10.53zM1643.84,720.19h12.64v2.11h-12.64zM1656.48,722.3h12.64v2.11h-12.64zM1669.12,724.42h10.53v2.11h-10.53zM1679.65,726.53h12.64v2.11h-12.64zM1692.29,728.64h2.11v2.11h-2.11zM1694.4,728.64h21.07v2.11h-21.07zM1715.47,730.75h25.28v2.11h-25.28zM1740.75,732.86h25.28v2.11h-25.28zM1766.03,734.98h4.21v2.11h-4.21zM1770.24,734.98h4.21v2.11h-4.21zM1774.45,737.09h8.43v2.11h-8.43zM1782.88,739.2h6.32v2.11h-6.32zM1789.2,741.31h6.32v2.11h-6.32zM1795.52,743.42h6.32v2.11h-6.32zM1801.84,745.54h6.32v2.11h-6.32zM1808.16,747.65h6.32v2.11h-6.32zM1814.48,749.76h6.32v2.11h-6.32zM1820.8,751.87h6.32v2.11h-6.32zM1827.12,753.98h8.43v2.11h-8.43zM1835.55,756.1h6.32v2.11h-6.32zM1841.87,758.21h4.21v2.11h-4.21zM1846.08,758.21h75.84v2.11h-75.84zM1921.92,758.21h2.11v2.11h-2.11zM1924.03,760.32h6.32v2.11h-6.32zM1930.35,762.43h4.21v2.11h-4.21zM1934.56,764.54h6.32v2.11h-6.32zM1940.88,766.66h6.32v2.11h-6.32zM1947.2,768.77h6.32v2.11h-6.32zM1953.52,770.88h6.32v2.11h-6.32zM1959.84,772.99h6.32v2.11h-6.32zM1966.16,775.1h6.32v2.11h-6.32zM1972.48,777.22h4.21v2.11h-4.21zM1976.69,779.33h6.32v2.11h-6.32zM1983.01,781.44h6.32v2.11h-6.32zM1989.33,783.55h6.32v2.11h-6.32zM1995.65,785.66h2.11v2.11h-2.11z"/>
<polygon points="251.96,818.12 251.96,820.28 249.8,820.28 249.8,824.6 247.64,824.6 247.64,828.92 245.48,828.92 245.48,831.08 243.32,831.08 243.32,835.4 241.16,835.4 241.16,839.72 239,839.72 239,844.04 236.84,844.04 236.84,846.2 269.24,846.2 269.24,844.04 267.08,844.04 267.08,839.72 264.92,839.72 264.92,835.4 262.76,835.4 262.76,831.08 260.6,831.08 260.6,828.92 258.44,828.92 258.44,824.6 256.28,824.6 256.28,820.28 254.12,820.28 254.12,818.12" fill="#0072e4"/>
<polygon points="327.8,863.78 327.8,865.94 325.64,865.94 325.64,870.26 323.48,870.26 323.48,874.58 321.32,874.58 321.32,876.74 319.16,876.74 319.16,881.06 317,881.06 317,885.38 314.84,885.38 314.84,889.7 312.68,889.7 312.68,891.86 345.08,891.86 345.08,889.7 342.92,889.7 342.92,885.38 340.76,885.38 340.76,881.06 338.6,881.06 338.6,876.74 336.44,876.74 336.44,874.58 334.28,874.58 334.28,870.26 332.12,870.26 332.12,865.94 329.96,865.94 329.96,863.78" fill="#0072e4"/>
<polygon points="403.64,977.72 403.64,979.88 401.48,979.88 401.48,984.2 399.32,984.2 399.32,988.52 397.16,988.52 397.16,990.68 395,990.68 395,995 392.84,995 392.84,999.32 390.68,999.32 390.68,1003.64 388.52,1003.64 388.52,1005.8 420.92,1005.8 420.92,1003.64 418.76,1003.64 418.76,999.32 416.6,999.32 416.6,995 414.44,995 414.44,990.68 412.28,990.68 412.28,988.52 410.12,988.52 410.12,984.2 407.96,984.2 407.96,979.88 405.8,979.88 405.8,977.72" fill="#0072e4"/>
<polygon points="479.48,1027.52 479.48,1029.68 477.32,1029.68 477.32,1034 475.16,1034 475.16,1038.32 473,1038.32 473,1040.48 470.84,1040.48 470.84,1044.8 468.68,1044.8 468.68,1049.12 466.52,1049.12 466.52,1053.44 464.36,1053.44 464.36,1055.6 496.76,1055.6 496.76,1053.44 494.6,1053.44 494.6,1049.12 492.44,1049.12 492.44,1044.8 490.28,1044.8 490.28,1040.48 488.12,1040.48 488.12,1038.32 485.96,1038.32 485.96,1034 483.8,1034 483.8,1029.68 481.64,1029.68 481.64,1027.52" fill="#0072e4"/>
<polygon points="555.32,1045.1 555.32,1047.26 553.16,1047.26 553.16,1051.58 551,1051.58 551,1055.9 548.84,1055.9 548.84,1058.06 546.68,1058.06 546.68,1062.38 544.52,1062.38 544.52,1066.7 542.36,1066.7 542.36,1071.02 540.2,1071.02 540.2,1073.18 572.6,1073.18 572.6,1071.02 570.44,1071.02 570.44,1066.7 568.28,1066.7 568.28,1062.38 566.12,1062.38 566.12,1058.06 563.96,1058.06 563.96,1055.9 561.8,1055.9 561.8,1051.58 559.64,1051.58 559.64,1047.26 557.48,1047.26 557.48,1045.1" fill="#0072e4"/>
<polygon points="631.16,1076.12 631.16,1078.28 629,1078.28 629,1082.6 626.84,1082.6 626.84,1086.92 624.68,1086.92 624.68,1089.08 622.52,1089.08 622.52,1093.4 620.36,1093.4 620.36,1097.72 618.2,1097.72 618.2,1102.04 616.04,1102.04 616.04,1104.2 648.44,1104.2 648.44,1102.04 646.28,1102.04 646.28,1097.72 644.12,1097.72 644.12,1093.4 641.96,1093.4 641.96,1089.08 639.8,1089.08 639.8,1086.92 637.64,1086.92 637.64,1082.6 635.48,1082.6 635.48,1078.28 633.32,1078.28 633.32,1076.12" fill="#0072e4"/>
<polygon points="707,1116.88 707,1119.04 704.84,1119.04 704.84,1123.36 702.68,1123.36 702.68,1127.68 700.52,1127.68 700.52,1129.84 698.36,1129.84 698.36,1134.16 696.2,1134.16 696.2,1138.48 694.04,1138.48 694.04,1142.8 691.88,1142.8 691.88,1144.96 724.28,1144.96 724.28,1142.8 722.12,1142.8 722.12,1138.48 719.96,1138.48 719.96,1134.16 717.8,1134.16 717.8,1129.84 715.64,1129.84 715.64,1127.68 713.48,1127.68 713.48,1123.36 711.32,1123.36 711.32,1119.04 709.16,1119.04 709.16,1116.88" fill="#0072e4"/>
<polygon points="782.84,1176.02 782.84,1178.18 780.68,1178.18 780.68,1182.5 778.52,1182.5 778.52,1186.82 776.36,1186.82 776.36,1188.98 774.2,1188.98 774.2,1193.3 772.04,1193.3 772.04,1197.62 769.88,1197.62 769.88,1201.94 767.72,1201.94 767.72,1204.1 800.12,1204.1 800.12,1201.94 797.96,1201.94 797.96,1197.62 795.8,1197.62 795.8,1193.3 793.64,1193.3 793.64,1188.98 791.48,1188.98 791.48,1186.82 789.32,1186.82 789.32,1182.5 787.16,1182.5 787.16,1178.18 785,1178.18 785,1176.02" fill="#0072e4"/>
<polygon points="858.68,1260.94 858.68,1263.1 856.52,1263.1 856.52,1267.42 854.36,1267.42 854.36,1271.74 852.2,1271.74 852.2,1273.9 850.04,1273.9 850.04,1278.22 847.88,1278.22 847.88,1282.54 845.72,1282.54 845.72,1286.86 843.56,1286.86 843.56,1289.02 875.96,1289.02 875.96,1286.86 873.8,1286.86 873.8,1282.54 871.64,1282.54 871.64,1278.22 869.48,1278.22 869.48,1273.9 867.32,1273.9 867.32,1271.74 865.16,1271.74 865.16,1267.42 863,1267.42 863,1263.1 860.84,1263.1 860.84,1260.94" fill="#0072e4"/>
<polygon points="934.52,1250.2 934.52,1252.36 932.36,1252.36 932.36,1256.68 930.2,1256.68 930.2,1261 928.04,1261 928.04,1263.16 925.88,1263.16 925.88,1267.48 923.72,1267.48 923.72,1271.8 921.56,1271.8 921.56,1276.12 919.4,1276.12 919.4,1278.28 951.8,1278.28 951.8,1276.12 949.64,1276.12 949.64,1271.8 947.48,1271.8 947.48,1267.48 945.32,1267.48 945.32,1263.16 943.16,1263.16 943.16,1261 941,1261 941,1256.68 938.84,1256.68 938.84,1252.36 936.68,1252.36 936.68,1250.2" fill="#0072e4"/>
<polygon points="1010.36,1250.2 1010.36,1252.36 1008.2,1252.36 1008.2,1256.68 1006.04,1256.68 1006.04,1261 1003.88,1261 1003.88,1263.16 1001.72,1263.16 1001.72,1267.48 999.56,1267.48 999.56,1271.8 997.4,1271.8 997.4,1276.12 995.24,1276.12 995.24,1278.28 1027.64,1278.28 1027.64,1276.12 1025.48,1276.12 1025.48,1271.8 1023.32,1271.8 1023.32,1267.48 1021.16,1267.48 1021.16,1263.16 1019,1263.16 1019,1261 1016.84,1261 1016.84,1256.68 1014.68,1256.68 1014.68,1252.36 1012.52,1252.36 1012.52,1250.2" fill="#0072e4"/>
<polygon points="1086.2,1240.96 1086.2,1243.12 1084.04,1243.12 1084.04,1247.44 1081.88,1247.44 1081.88,1251.76 1079.72,1251.76 1079.72,1253.92 1077.56,1253.92 1077.56,1258.24 1075.4,1258.24 1075.4,1262.56 1073.24,1262.56 1073.24,1266.88 1071.08,1266.88 1071.08,1269.04 1103.48,1269.04 1103.48,1266.88 1101.32,1266.88 1101.32,1262.56 1099.16,1262.56 1099.16,1258.24 1097,1258.24 1097,1253.92 1094.84,1253.92 1094.84,1251.76 1092.68,1251.76 1092.68,1247.44 1090.52,1247.44 1090.52,1243.12 1088.36,1243.12 1088.36,1240.96" fill="#0072e4"/>
<polygon points="1162.04,1230.62 1162.04,1232.78 1159.88,1232.78 1159.88,1237.1 1157.72,1237.1 1157.72,1241.42 1155.56,1241.42 1155.56,1243.58 1153.4,1243.58 1153.4,1247.9 1151.24,1247.9 1151.24,1252.22 1149.08,1252.22 1149.08,1256.54 1146.92,1256.54 1146.92,1258.7 1179.32,1258.7 1179.32,1256.54 1177.16,1256.54 1177.16,1252.22 1175,1252.22 1175,1247.9 1172.84,1247.9 1172.84,1243.58 1170.68,1243.58 1170.68,1241.42 1168.52,1241.42 1168.52,1237.1 1166.36,1237.1 1166.36,1232.78 1164.2,1232.78 1164.2,1230.62" fill="#0072e4"/>
<polygon points="1237.88,1226.72 1237.88,1228.88 1235.72,1228.88 1235.72,1233.2 1233.56,1233.2 1233.56,1237.52 1231.4,1237.52 1231.4,1239.68 1229.24,1239.68 1229.24,1244 1227.08,1244 1227.08,1248.32 1224.92,1248.32 1224.92,1252.64 1222.76,1252.64 1222.76,1254.8 1255.16,1254.8 1255.16,1252.64 1253,1252.64 1253,1248.32 1250.84,1248.32 1250.84,1244 1248.68,1244 1248.68,1239.68 1246.52,1239.68 1246.52,1237.52 1244.36,1237.52 1244.36,1233.2 1242.2,1233.2 1242.2,1228.88 1240.04,1228.88 1240.04,1226.72" fill="#0072e4"/>
<polygon points="1313.72,1139.06 1313.72,1141.22 1311.56,1141.22 1311.56,1145.54 1309.4,1145.54 1309.4,1149.86 1307.24,1149.86 1307.24,1152.02 1305.08,1152.02 1305.08,1156.34 1302.92,1156.34 1302.92,1160.66 1300.76,1160.66 1300.76,1164.98 1298.6,1164.98 1298.6,1167.14 1331,1167.14 1331,1164.98 1328.84,1164.98 1328.84,1160.66 1326.68,1160.66 1326.68,1156.34 1324.52,1156.34 1324.52,1152.02 1322.36,1152.02 1322.36,1149.86 1320.2,1149.86 1320.2,1145.54 1318.04,1145.54 1318.04,1141.22 1315.88,1141.22 1315.88,1139.06" fill="#0072e4"/>
<polygon points="1389.56,1001.44 1389.56,1003.6 1387.4,1003.6 1387.4,1007.92 1385.24,1007.92 1385.24,1012.24 1383.08,1012.24 1383.08,1014.4 1380.92,1014.4 1380.92,1018.72 1378.76,1018.72 1378.76,1023.04 1376.6,1023.04 1376.6,1027.36 1374.44,1027.36 1374.44,1029.52 1406.84,1029.52 1406.84,1027.36 1404.68,1027.36 1404.68,1023.04 1402.52,1023.04 1402.52,1018.72 1400.36,1018.72 1400.36,1014.4 1398.2,1014.4 1398.2,1012.24 1396.04,1012.24 1396.04,1007.92 1393.88,1007.92 1393.88,1003.6 1391.72,1003.6 1391.72,1001.44" fill="#0072e4"/>
<polygon points="1465.4,913.98 1465.4,916.14 1463.24,916.14 1463.24,920.46 1461.08,920.46 1461.08,924.78 1458.92,924.78 1458.92,926.94 1456.76,926.94 1456.76,931.26 1454.6,931.26 1454.6,935.58 1452.44,935.58 1452.44,939.9 1450.28,939.9 1450.28,942.06 1482.68,942.06 1482.68,939.9 1480.52,939.9 1480.52,935.58 1478.36,935.58 1478.36,931.26 1476.2,931.26 1476.2,926.94 1474.04,926.94 1474.04,924.78 1471.88,924.78 1471.88,920.46 1469.72,920.46 1469.72,916.14 1467.56,916.14 1467.56,913.98" fill="#0072e4"/>
<polygon points="1541.24,768.72 1541.24,770.88 1539.08,770.88 1539.08,775.2 1536.92,775.2 1536.92,779.52 1534.76,779.52 1534.76,781.68 1532.6,781.68 1532.6,786 1530.44,786 1530.44,790.32 1528.28,790.32 1528.28,794.64 1526.12,794.64 1526.12,796.8 1558.52,796.8 1558.52,794.64 1556.36,794.64 1556.36,790.32 1554.2,790.32 1554.2,786 1552.04,786 1552.04,781.68 1549.88,781.68 1549.88,779.52 1547.72,779.52 1547.72,775.2 1545.56,775.2 1545.56,770.88 1543.4,770.88 1543.4,768.72" fill="#0072e4"/>
<polygon points="1617.08,697.84 1617.08,700 1614.92,700 1614.92,704.32 1612.76,704.32 1612.76,708.64 1610.6,708.64 1610.6,710.8 1608.44,710.8 1608.44,715.12 1606.28,715.12 1606.28,719.44 1604.12,719.44 1604.12,723.76 1601.96,723.76 1601.96,725.92 1634.36,725.92 1634.36,723.76 1632.2,723.76 1632.2,719.44 1630.04,719.44 1630.04,715.12 1627.88,715.12 1627.88,710.8 1625.72,710.8 1625.72,708.64 1623.56,708.64 1623.56,704.32 1621.4,704.32 1621.4,700 1619.24,700 1619.24,697.84" fill="#0072e4"/>
<polygon points="1692.92,711.18 1692.92,713.34 1690.76,713.34 1690.76,717.66 1688.6,717.66 1688.6,721.98 1686.44,721.98 1686.44,724.14 1684.28,724.14 1684.28,728.46 1682.12,728.46 1682.12,732.78 1679.96,732.78 1679.96,737.1 1677.8,737.1 1677.8,739.26 1710.2,739.26 1710.2,737.1 1708.04,737.1 1708.04,732.78 1705.88,732.78 1705.88,728.46 1703.72,728.46 1703.72,724.14 1701.56,724.14 1701.56,721.98 1699.4,721.98 1699.4,717.66 1697.24,717.66 1697.24,713.34 1695.08,713.34 1695.08,711.18" fill="#0072e4"/>
<polygon points="1768.76,717.62 1768.76,719.78 1766.6,719.78 1766.6,724.1 1764.44,724.1 1764.44,728.42 1762.28,728.42 1762.28,730.58 1760.12,730.58 1760.12,734.9 1757.96,734.9 1757.96,739.22 1755.8,739.22 1755.8,743.54 1753.64,743.54 1753.64,745.7 1786.04,745.7 1786.04,743.54 1783.88,743.54 1783.88,739.22 1781.72,739.22 1781.72,734.9 1779.56,734.9 1779.56,730.58 1777.4,730.58 1777.4,728.42 1775.24,728.42 1775.24,724.1 1773.08,724.1 1773.08,719.78 1770.92,719.78 1770.92,717.62" fill="#0072e4"/>
<polygon points="1844.6,741.5 1844.6,743.66 1842.44,743.66 1842.44,747.98 1840.28,747.98 1840.28,752.3 1838.12,752.3 1838.12,754.46 1835.96,754.46 1835.96,758.78 1833.8,758.78 1833.8,763.1 1831.64,763.1 1831.64,767.42 1829.48,767.42 1829.48,769.58 1861.88,769.58 1861.88,767.42 1859.72,767.42 1859.72,763.1 1857.56,763.1 1857.56,758.78 1855.4,758.78 1855.4,754.46 1853.24,754.46 1853.24,752.3 1851.08,752.3 1851.08,747.98 1848.92,747.98 1848.92,743.66 1846.76,743.66 1846.76,741.5" fill="#0072e4"/>
<polygon points="1920.44,743.7 1920.44,745.86 1918.28,745.86 1918.28,750.18 1916.12,750.18 1916.12,754.5 1913.96,754.5 1913.96,756.66 1911.8,756.66 1911.8,760.98 1909.64,760.98 1909.64,765.3 1907.48,765.3 1907.48,769.62 1905.32,769.62 1905.32,771.78 1937.72,771.78 1937.72,769.62 1935.56,769.62 1935.56,765.3 1933.4,765.3 1933.4,760.98 1931.24,760.98 1931.24,756.66 1929.08,756.66 1929.08,754.5 1926.92,754.5 1926.92,750.18 1924.76,750.18 1924.76,745.86 1922.6,745.86 1922.6,743.7" fill="#0072e4"/>
<polygon points="1996.28,768.62 1996.28,770.78 1994.12,770.78 1994.12,775.1 1991.96,775.1 1991.96,779.42 1989.8,779.42 1989.8,781.58 1987.64,781.58 1987.64,785.9 1985.48,785.9 1985.48,790.22 1983.32,790.22 1983.32,794.54 1981.16,794.54 1981.16,796.7 2013.56,796.7 2013.56,794.54 2011.4,794.54 2011.4,790.22 2009.24,790.22 2009.24,785.9 2007.08,785.9 2007.08,781.58 2004.92,781.58 2004.92,779.42 2002.76,779.42 2002.76,775.1 2000.6,775.1 2000.6,770.78 1998.44,770.78 1998.44,768.62" fill="#0072e4"/>
</g>
<g stroke-linecap="butt">
<path fill="#00ae6a" d="M253.44,971.52h6.32v2.11h-6.32zM259.76,973.63h8.43v2.11h-8.43zM268.19,975.74h10.53v2.11h-10.53zM278.72,977.86h8.43v2.11h-8.43zM287.15,979.97h8.43v2.11h-8.43zM295.57,982.08h8.43v2.11h-8.43zM304,984.19h8.43v2.11h-8.43zM312.43,986.3h8.43v2.11h-8.43zM320.85,988.42h8.43v2.11h-8.43zM329.47,990.62h2.11v2.12h-2.11zM331.58,992.74h2.11v4.24h-2.11zM333.7,996.99h2.11v2.12h-2.11zM335.81,999.11h2.11v2.12h-2.11zM337.92,1001.23h2.11v2.12h-2.11zM340.03,1003.35h2.11v2.12h-2.11zM342.14,1005.48h2.11v2.12h-2.11zM344.26,1007.6h2.11v4.24h-2.11zM346.37,1011.84h2.11v2.12h-2.11zM348.48,1013.97h2.11v2.12h-2.11zM350.59,1016.09h2.11v2.12h-2.11zM352.7,1018.21h2.11v2.12h-2.11zM354.82,1020.33h2.11v4.24h-2.11zM356.93,1024.58h2.11v2.12h-2.11zM359.04,1026.7h2.11v2.12h-2.11zM361.15,1028.82h2.11v2.12h-2.11zM363.26,1030.94h2.11v2.12h-2.11zM365.38,1033.07h2.11v4.24h-2.11zM367.49,1037.31h2.11v2.12h-2.11zM369.6,1039.43h2.11v2.12h-2.11zM371.71,1041.56h2.11v2.12h-2.11zM373.82,1043.68h2.11v2.12h-2.11zM375.94,1045.8h2.11v4.24h-2.11zM378.05,1050.05h2.11v2.12h-2.11zM380.16,1052.17h2.11v2.12h-2.11zM382.27,1054.29h2.11v2.12h-2.11zM384.38,1056.41h2.11v2.12h-2.11zM386.5,1058.53h2.11v4.24h-2.11zM388.61,1062.78h2.11v2.12h-2.11zM390.72,1064.9h2.11v2.12h-2.11zM392.83,1067.02h2.11v2.12h-2.11zM394.94,1069.15h2.11v2.12h-2.11zM397.06,1071.27h2.11v4.24h-2.11zM399.17,1075.51h2.11v2.12h-2.11zM401.28,1077.64h2.11v2.12h-2.11zM403.39,1079.76h2.11v2.12h-2.11zM405.12,1081.34h2.11v2.11h-2.11zM407.23,1083.46h4.21v2.11h-4.21zM411.44,1085.57h4.21v2.11h-4.21zM415.65,1087.68h4.21v2.11h-4.21zM419.87,1089.79h4.21v2.11h-4.21zM424.08,1091.9h4.21v2.11h-4.21zM428.29,1094.02h4.21v2.11h-4.21zM432.51,1096.13h4.21v2.11h-4.21zM436.72,1098.24h4.21v2.11h-4.21zM440.93,1100.35h4.21v2.11h-4.21zM445.15,1102.46h4.21v2.11h-4.21zM449.36,1104.58h4.21v2.11h-4.21zM453.57,1106.69h4.21v2.11h-4.21zM457.79,1108.8h4.21v2.11h-4.21zM462,1110.91h4.21v2.11h-4.21zM466.21,1113.02h4.21v2.11h-4.21zM470.43,1115.14h4.21v2.11h-4.21zM474.64,1117.25h4.21v2.11h-4.21zM478.85,1119.36h2.11v2.11h-2.11zM480.96,1119.36h2.11v2.11h-2.11zM483.07,1121.47h6.32v2.11h-6.32zM489.39,1123.58h8.43v2.11h-8.43zM497.81,1125.7h6.32v2.11h-6.32zM504.13,1127.81h8.43v2.11h-8.43zM512.56,1129.92h6.32v2.11h-6.32zM518.88,1132.03h6.32v2.11h-6.32zM525.2,1134.14h8.43v2.11h-8.43zM533.63,1136.26h6.32v2.11h-6.32zM539.95,1138.37h8.43v2.11h-8.43zM548.37,1140.48h6.32v2.11h-6.32zM554.69,1142.59h2.11v2.11h-2.11zM556.8,1142.59h8.43v2.11h-8.43zM565.23,1140.48h37.92v2.11h-37.92zM603.15,1138.37h29.49v2.11h-29.49zM632.64,1138.37h2.11v2.11h-2.11zM634.75,1140.48h2.11v2.11h-2.11zM636.85,1142.59h2.11v2.11h-2.11zM638.96,1144.7h2.11v2.11h-2.11zM641.07,1146.82h4.21v2.11h-4.21zM645.28,1148.93h2.11v2.11h-2.11zM647.39,1151.04h2.11v2.11h-2.11zM649.49,1153.15h2.11v2.11h-2.11zM651.6,1155.26h2.11v2.11h-2.11zM653.71,1157.38h2.11v2.11h-2.11zM655.81,1159.49h4.21v2.11h-4.21zM660.03,1161.6h2.11v2.11h-2.11zM662.13,1163.71h2.11v2.11h-2.11zM664.24,1165.82h2.11v2.11h-2.11zM666.35,1167.94h2.11v2.11h-2.11zM668.45,1170.05h2.11v2.11h-2.11zM670.56,1172.16h2.11v2.11h-2.11zM672.67,1174.27h4.21v2.11h-4.21zM676.88,1176.38h2.11v2.11h-2.11zM678.99,1178.5h2.11v2.11h-2.11zM681.09,1180.61h2.11v2.11h-2.11zM683.2,1182.72h2.11v2.11h-2.11zM685.31,1184.83h2.11v2.11h-2.11zM687.41,1186.94h4.21v2.11h-4.21zM691.63,1189.06h2.11v2.11h-2.11zM693.73,1191.17h2.11v2.11h-2.11zM695.84,1193.28h2.11v2.11h-2.11zM697.95,1195.39h2.11v2.11h-2.11zM700.05,1197.5h2.11v2.11h-2.11zM702.16,1199.62h4.21v2.11h-4.21zM706.37,1201.73h2.11v2.11h-2.11zM708.48,1203.84h4.21v2.11h-4.21zM712.69,1205.95h4.21v2.11h-4.21zM716.91,1208.06h4.21v2.11h-4.21zM721.12,1210.18h4.21v2.11h-4.21zM725.33,1212.29h4.21v2.11h-4.21zM729.55,1214.4h6.32v2.11h-6.32zM735.87,1216.51h4.21v2.11h-4.21zM740.08,1218.62h4.21v2.11h-4.21zM744.29,1220.74h4.21v2.11h-4.21zM748.51,1222.85h4.21v2.11h-4.21zM752.72,1224.96h6.32v2.11h-6.32zM759.04,1227.07h4.21v2.11h-4.21zM763.25,1229.18h4.21v2.11h-4.21zM767.47,1231.3h4.21v2.11h-4.21zM771.68,1233.41h4.21v2.11h-4.21zM775.89,1235.52h4.21v2.11h-4.21zM780.11,1237.63h4.21v2.11h-4.21zM784.32,1239.74h4.21v2.11h-4.21zM788.53,1241.86h2.11v2.11h-2.11zM790.64,1243.97h2.11v2.11h-2.11zM792.75,1246.08h2.11v2.11h-2.11zM794.85,1248.19h2.11v2.11h-2.11zM796.96,1250.3h2.11v2.11h-2.11zM799.07,1252.42h4.21v2.11h-4.21zM803.28,1254.53h2.11v2.11h-2.11zM805.39,1256.64h2.11v2.11h-2.11zM807.49,1258.75h2.11v2.11h-2.11zM809.6,1260.86h2.11v2.11h-2.11zM811.71,1262.98h2.11v2.11h-2.11zM813.81,1265.09h4.21v2.11h-4.21zM818.03,1267.2h2.11v2.11h-2.11zM820.13,1269.31h2.11v2.11h-2.11zM822.24,1271.42h2.11v2.11h-2.11zM824.35,1273.54h2.11v2.11h-2.11zM826.45,1275.65h2.11v2.11h-2.11zM828.56,1277.76h4.21v2.11h-4.21zM832.77,1279.87h2.11v2.11h-2.11zM834.88,1281.98h2.11v2.11h-2.11zM836.99,1284.1h2.11v2.11h-2.11zM839.09,1286.21h2.11v2.11h-2.11zM841.2,1288.32h2.11v2.11h-2.11zM843.31,1290.43h4.21v2.11h-4.21zM847.52,1292.54h2.11v2.11h-2.11zM849.63,1294.66h2.11v2.11h-2.11zM851.73,1296.77h2.11v2.11h-2.11zM853.84,1298.88h2.11v2.11h-2.11zM855.95,1300.99h2.11v2.11h-2.11zM858.05,1303.1h2.11v2.11h-2.11zM860.16,1303.1h37.92v2.11h-37.92zM898.08,1300.99h37.92v2.11h-37.92zM936,1300.99h37.92v2.11h-37.92zM973.92,1303.1h37.92v2.11h-37.92zM1011.84,1303.1h2.11v2.11h-2.11zM1013.95,1300.99h2.11v2.11h-2.11zM1016.05,1298.88h4.21v2.11h-4.21zM1020.27,1296.77h2.11v2.11h-2.11zM1022.37,1294.66h4.21v2.11h-4.21zM1026.59,1292.54h2.11v2.11h-2.11zM1028.69,1290.43h4.21v2.11h-4.21zM1032.91,1288.32h2.11v2.11h-2.11zM1035.01,1286.21h4.21v2.11h-4.21zM1039.23,1284.1h4.21v2.11h-4.21zM1043.44,1281.98h2.11v2.11h-2.11zM1045.55,1279.87h4.21v2.11h-4.21zM1049.76,1277.76h2.11v2.11h-2.11zM1051.87,1275.65h4.21v2.11h-4.21zM1056.08,1273.54h2.11v2.11h-2.11zM1058.19,1271.42h4.21v2.11h-4.21zM1062.4,1269.31h2.11v2.11h-2.11zM1064.51,1267.2h4.21v2.11h-4.21zM1068.72,1265.09h2.11v2.11h-2.11zM1070.83,1262.98h4.21v2.11h-4.21zM1075.04,1260.86h2.11v2.11h-2.11zM1077.15,1258.75h4.21v2.11h-4.21zM1081.36,1256.64h2.11v2.11h-2.11zM1083.47,1254.53h4.21v2.11h-4.21zM1087.68,1252.42h33.71v2.11h-33.71zM1121.39,1250.3h33.71v2.11h-33.71zM1155.09,1248.19h8.43v2.11h-8.43zM1163.52,1248.19h10.53v2.11h-10.53zM1174.05,1246.08h14.75v2.11h-14.75zM1188.8,1243.97h14.75v2.11h-14.75zM1203.55,1241.86h14.75v2.11h-14.75zM1218.29,1239.74h12.64v2.11h-12.64zM1230.93,1237.63h8.43v2.11h-8.43zM1239.36,1237.63h18.96v2.11h-18.96zM1258.32,1235.52h44.24v2.11h-44.24zM1302.56,1233.41h12.64v2.11h-12.64zM1315.2,1233.41h2.11v2.11h-2.11zM1317.31,1231.3h2.11v2.11h-2.11zM1319.41,1229.18h4.21v2.11h-4.21zM1323.63,1227.07h2.11v2.11h-2.11zM1325.73,1224.96h2.11v2.11h-2.11zM1327.84,1222.85h4.21v2.11h-4.21zM1332.05,1220.74h2.11v2.11h-2.11zM1334.16,1218.62h2.11v2.11h-2.11zM1336.27,1216.51h4.21v2.11h-4.21zM1340.48,1214.4h2.11v2.11h-2.11zM1342.59,1212.29h2.11v2.11h-2.11zM1344.69,1210.18h4.21v2.11h-4.21zM1348.91,1208.06h2.11v2.11h-2.11zM1351.01,1205.95h2.11v2.11h-2.11zM1353.12,1203.84h4.21v2.11h-4.21zM1357.33,1201.73h2.11v2.11h-2.11zM1359.44,1199.62h2.11v2.11h-2.11zM1361.55,1197.5h4.21v2.11h-4.21zM1365.76,1195.39h2.11v2.11h-2.11zM1367.87,1193.28h2.11v2.11h-2.11zM1369.97,1191.17h2.11v2.11h-2.11zM1372.08,1189.06h4.21v2.11h-4.21zM1376.29,1186.94h2.11v2.11h-2.11zM1378.4,1184.83h2.11v2.11h-2.11zM1380.51,1182.72h4.21v2.11h-4.21zM1384.72,1180.61h2.11v2.11h-2.11zM1386.83,1178.5h2.11v2.11h-2.11zM1388.93,1176.38h2.11v2.11h-2.11zM1391.81,1173.39h2.11v4.25h-2.11zM1393.92,1171.26h2.11v2.13h-2.11zM1396.03,1169.13h2.11v2.13h-2.11zM1398.14,1167.01h2.11v2.13h-2.11zM1400.26,1164.88h2.11v2.13h-2.11zM1402.37,1162.75h2.11v2.13h-2.11zM1404.48,1158.5h2.11v4.25h-2.11zM1406.59,1156.37h2.11v2.13h-2.11zM1408.7,1154.25h2.11v2.13h-2.11zM1410.82,1152.12h2.11v2.13h-2.11zM1412.93,1149.99h2.11v2.13h-2.11zM1415.04,1147.87h2.11v2.13h-2.11zM1417.15,1143.61h2.11v4.25h-2.11zM1419.26,1141.49h2.11v2.13h-2.11zM1421.38,1139.36h2.11v2.13h-2.11zM1423.49,1137.23h2.11v2.13h-2.11zM1425.6,1135.11h2.11v2.13h-2.11zM1427.71,1132.98h2.11v2.13h-2.11zM1429.82,1128.73h2.11v4.25h-2.11zM1431.94,1126.6h2.11v2.13h-2.11zM1434.05,1124.47h2.11v2.13h-2.11zM1436.16,1122.35h2.11v2.13h-2.11zM1438.27,1120.22h2.11v2.13h-2.11zM1440.38,1118.09h2.11v2.13h-2.11zM1442.5,1113.84h2.11v4.25h-2.11zM1444.61,1111.71h2.11v2.13h-2.11zM1446.72,1109.59h2.11v2.13h-2.11zM1448.83,1107.46h2.11v2.13h-2.11zM1450.94,1105.33h2.11v2.13h-2.11zM1453.06,1101.08h2.11v4.25h-2.11zM1455.17,1098.95h2.11v2.13h-2.11zM1457.28,1096.83h2.11v2.13h-2.11zM1459.39,1094.7h2.11v2.13h-2.11zM1461.5,1092.57h2.11v2.13h-2.11zM1463.62,1090.45h2.11v2.13h-2.11zM1465.73,1088.32h2.11v2.13h-2.11zM1466.88,1087.68h2.11v2.11h-2.11zM1468.99,1085.57h2.11v2.11h-2.11zM1471.09,1083.46h4.21v2.11h-4.21zM1475.31,1081.34h4.21v2.11h-4.21zM1479.52,1079.23h4.21v2.11h-4.21zM1483.73,1077.12h4.21v2.11h-4.21zM1487.95,1075.01h4.21v2.11h-4.21zM1492.16,1072.9h4.21v2.11h-4.21zM1496.37,1070.78h4.21v2.11h-4.21zM1500.59,1068.67h4.21v2.11h-4.21zM1504.8,1066.56h4.21v2.11h-4.21zM1509.01,1064.45h2.11v2.11h-2.11zM1511.12,1062.34h4.21v2.11h-4.21zM1515.33,1060.22h4.21v2.11h-4.21zM1519.55,1058.11h4.21v2.11h-4.21zM1523.76,1056h4.21v2.11h-4.21zM1527.97,1053.89h4.21v2.11h-4.21zM1532.19,1051.78h4.21v2.11h-4.21zM1536.4,1049.66h4.21v2.11h-4.21zM1540.61,1047.55h2.11v2.11h-2.11zM1541.76,1046.04h2.11v2.12h-2.11zM1543.87,1043.93h2.11v2.12h-2.11zM1545.98,1039.69h2.11v4.23h-2.11zM1548.1,1037.58h2.11v2.12h-2.11zM1550.21,1035.46h2.11v2.12h-2.11zM1552.32,1031.23h2.11v4.23h-2.11zM1554.43,1029.11h2.11v2.12h-2.11zM1556.54,1024.88h2.11v4.23h-2.11zM1558.66,1022.76h2.11v2.12h-2.11zM1560.77,1018.53h2.11v4.23h-2.11zM1562.88,1016.41h2.11v2.12h-2.11zM1564.99,1014.3h2.11v2.12h-2.11zM1567.1,1010.06h2.11v4.23h-2.11zM1569.22,1007.95h2.11v2.12h-2.11zM1571.33,1003.71h2.11v4.23h-2.11zM1573.44,1001.6h2.11v2.12h-2.11zM1575.55,999.48h2.11v2.12h-2.11zM1577.66,995.25h2.11v4.23h-2.11zM1579.78,993.13h2.11v2.12h-2.11zM1581.89,988.9h2.11v4.23h-2.11zM1584,986.78h2.11v2.12h-2.11zM1586.11,982.55h2.11v4.23h-2.11zM1588.22,980.43h2.11v2.12h-2.11zM1590.34,978.32h2.11v2.12h-2.11zM1592.45,974.08h2.11v4.23h-2.11zM1594.56,971.97h2.11v2.12h-2.11zM1596.67,967.73h2.11v4.23h-2.11zM1598.78,965.62h2.11v2.12h-2.11zM1600.9,961.38h2.11v4.23h-2.11zM1603.01,959.27h2.11v2.12h-2.11zM1605.12,957.15h2.11v2.12h-2.11zM1607.23,952.92h2.11v4.23h-2.11zM1609.34,950.8h2.11v2.12h-2.11zM1611.46,946.57h2.11v4.23h-2.11zM1613.57,944.45h2.11v2.12h-2.11zM1615.68,942.34h2.11v2.12h-2.11zM1617.79,940.22h2.11v2.12h-2.11zM1618.56,937.73h2.11v2.11h-2.11zM1620.67,935.62h2.11v2.11h-2.11zM1622.77,933.5h2.11v2.11h-2.11zM1624.88,931.39h4.21v2.11h-4.21zM1629.09,929.28h2.11v2.11h-2.11zM1631.2,927.17h2.11v2.11h-2.11zM1633.31,925.06h2.11v2.11h-2.11zM1635.41,922.94h2.11v2.11h-2.11zM1637.52,920.83h2.11v2.11h-2.11zM1639.63,918.72h2.11v2.11h-2.11zM1641.73,916.61h2.11v2.11h-2.11zM1643.84,914.5h2.11v2.11h-2.11zM1645.95,912.38h2.11v2.11h-2.11zM1648.05,910.27h2.11v2.11h-2.11zM1650.16,908.16h2.11v2.11h-2.11zM1652.27,906.05h4.21v2.11h-4.21zM1656.48,903.94h2.11v2.11h-2.11zM1658.59,901.82h2.11v2.11h-2.11zM1660.69,899.71h2.11v2.11h-2.11zM1662.8,897.6h2.11v2.11h-2.11zM1664.91,895.49h2.11v2.11h-2.11zM1667.01,893.38h2.11v2.11h-2.11zM1669.12,891.26h2.11v2.11h-2.11zM1671.23,889.15h2.11v2.11h-2.11zM1673.33,887.04h2.11v2.11h-2.11zM1675.44,884.93h2.11v2.11h-2.11zM1677.55,882.82h2.11v2.11h-2.11zM1679.65,880.7h4.21v2.11h-4.21zM1683.87,878.59h2.11v2.11h-2.11zM1685.97,876.48h2.11v2.11h-2.11zM1688.08,874.37h2.11v2.11h-2.11zM1690.19,872.26h2.11v2.11h-2.11zM1692.29,870.14h2.11v2.11h-2.11zM1694.4,870.14h14.75v2.11h-14.75zM1709.15,872.26h14.75v2.11h-14.75zM1723.89,874.37h14.75v2.11h-14.75zM1738.64,876.48h14.75v2.11h-14.75zM1753.39,878.59h12.64v2.11h-12.64zM1766.03,880.7h4.21v2.11h-4.21zM1770.24,880.7h2.11v2.11h-2.11zM1772.35,882.82h2.11v2.11h-2.11zM1774.45,884.93h4.21v2.11h-4.21zM1778.67,887.04h2.11v2.11h-2.11zM1780.77,889.15h2.11v2.11h-2.11zM1782.88,891.26h4.21v2.11h-4.21zM1787.09,893.38h2.11v2.11h-2.11zM1789.2,895.49h2.11v2.11h-2.11zM1791.31,897.6h4.21v2.11h-4.21zM1795.52,899.71h2.11v2.11h-2.11zM1797.63,901.82h2.11v2.11h-2.11zM1799.73,903.94h2.11v2.11h-2.11zM1801.84,906.05h4.21v2.11h-4.21zM1806.05,908.16h2.11v2.11h-2.11zM1808.16,910.27h2.11v2.11h-2.11zM1810.27,912.38h4.21v2.11h-4.21zM1814.48,914.5h2.11v2.11h-2.11zM1816.59,916.61h2.11v2.11h-2.11zM1818.69,918.72h4.21v2.11h-4.21zM1822.91,920.83h2.11v2.11h-2.11zM1825.01,922.94h2.11v2.11h-2.11zM1827.12,925.06h4.21v2.11h-4.21zM1831.33,927.17h2.11v2.11h-2.11zM1833.44,929.28h2.11v2.11h-2.11zM1835.55,931.39h4.21v2.11h-4.21zM1839.76,933.5h2.11v2.11h-2.11zM1841.87,935.62h2.11v2.11h-2.11zM1843.97,937.73h2.11v2.11h-2.11zM1846.08,937.73h25.28v2.11h-25.28zM1871.36,939.84h50.56v2.11h-50.56zM1921.92,939.84h2.11v2.11h-2.11zM1924.03,941.95h8.43v2.11h-8.43zM1932.45,944.06h8.43v2.11h-8.43zM1940.88,946.18h6.32v2.11h-6.32zM1947.2,948.29h8.43v2.11h-8.43zM1955.63,950.4h6.32v2.11h-6.32zM1961.95,952.51h8.43v2.11h-8.43zM1970.37,954.62h8.43v2.11h-8.43zM1978.8,956.74h6.32v2.11h-6.32zM1985.12,958.85h8.43v2.11h-8.43zM1993.55,960.96h4.21v2.11h-4.21z"/>
<polygon points="236.84,961.44 236.84,963.6 239,963.6 239,967.92 241.16,967.92 241.16,972.24 243.32,972.24 243.32,976.56 245.48,976.56 245.48,978.72 247.64,978.72 247.64,983.04 249.8,983.04 249.8,987.36 251.96,987.36 251.96,989.52 254.12,989.52 254.12,987.36 256.28,987.36 256.28,983.04 258.44,983.04 258.44,978.72 260.6,978.72 260.6,976.56 262.76,976.56 262.76,972.24 264.92,972.24 264.92,967.92 267.08,967.92 267.08,963.6 269.24,963.6 269.24,961.44" fill="#00ae6a"/>
<polygon points="312.68,980.22 312.68,982.38 314.84,982.38 314.84,986.7 317,986.7 317,991.02 319.16,991.02 319.16,995.34 321.32,995.34 321.32,997.5 323.48,997.5 323.48,1001.82 325.64,1001.82 325.64,1006.14 327.8,1006.14 327.8,1008.3 329.96,1008.3 329.96,1006.14 332.12,1006.14 332.12,1001.82 334.28,1001.82 334.28,997.5 336.44,997.5 336.44,995.34 338.6,995.34 338.6,991.02 340.76,991.02 340.76,986.7 342.92,986.7 342.92,982.38 345.08,982.38 345.08,980.22" fill="#00ae6a"/>
<polygon points="388.52,1071.48 388.52,1073.64 390.68,1073.64 390.68,1077.96 392.84,1077.96 392.84,1082.28 395,1082.28 395,1086.6 397.16,1086.6 397.16,1088.76 399.32,1088.76 399.32,1093.08 401.48,1093.08 401.48,1097.4 403.64,1097.4 403.64,1099.56 405.8,1099.56 405.8,1097.4 407.96,1097.4 407.96,1093.08 410.12,1093.08 410.12,1088.76 412.28,1088.76 412.28,1086.6 414.44,1086.6 414.44,1082.28 416.6,1082.28 416.6,1077.96 418.76,1077.96 418.76,1073.64 420.92,1073.64 420.92,1071.48" fill="#00ae6a"/>
<polygon points="464.36,1110.54 464.36,1112.7 466.52,1112.7 466.52,1117.02 468.68,1117.02 468.68,1121.34 470.84,1121.34 470.84,1125.66 473,1125.66 473,1127.82 475.16,1127.82 475.16,1132.14 477.32,1132.14 477.32,1136.46 479.48,1136.46 479.48,1138.62 481.64,1138.62 481.64,1136.46 483.8,1136.46 483.8,1132.14 485.96,1132.14 485.96,1127.82 488.12,1127.82 488.12,1125.66 490.28,1125.66 490.28,1121.34 492.44,1121.34 492.44,1117.02 494.6,1117.02 494.6,1112.7 496.76,1112.7 496.76,1110.54" fill="#00ae6a"/>
<polygon points="540.2,1132.72 540.2,1134.88 542.36,1134.88 542.36,1139.2 544.52,1139.2 544.52,1143.52 546.68,1143.52 546.68,1147.84 548.84,1147.84 548.84,1150 551,1150 551,1154.32 553.16,1154.32 553.16,1158.64 555.32,1158.64 555.32,1160.8 557.48,1160.8 557.48,1158.64 559.64,1158.64 559.64,1154.32 561.8,1154.32 561.8,1150 563.96,1150 563.96,1147.84 566.12,1147.84 566.12,1143.52 568.28,1143.52 568.28,1139.2 570.44,1139.2 570.44,1134.88 572.6,1134.88 572.6,1132.72" fill="#00ae6a"/>
<polygon points="616.04,1128.4 616.04,1130.56 618.2,1130.56 618.2,1134.88 620.36,1134.88 620.36,1139.2 622.52,1139.2 622.52,1143.52 624.68,1143.52 624.68,1145.68 626.84,1145.68 626.84,1150 629,1150 629,1154.32 631.16,1154.32 631.16,1156.48 633.32,1156.48 633.32,1154.32 635.48,1154.32 635.48,1150 637.64,1150 637.64,1145.68 639.8,1145.68 639.8,1143.52 641.96,1143.52 641.96,1139.2 644.12,1139.2 644.12,1134.88 646.28,1134.88 646.28,1130.56 648.44,1130.56 648.44,1128.4" fill="#00ae6a"/>
<polygon points="691.88,1193.96 691.88,1196.12 694.04,1196.12 694.04,1200.44 696.2,1200.44 696.2,1204.76 698.36,1204.76 698.36,1209.08 700.52,1209.08 700.52,1211.24 702.68,1211.24 702.68,1215.56 704.84,1215.56 704.84,1219.88 707,1219.88 707,1222.04 709.16,1222.04 709.16,1219.88 711.32,1219.88 711.32,1215.56 713.48,1215.56 713.48,1211.24 715.64,1211.24 715.64,1209.08 717.8,1209.08 717.8,1204.76 719.96,1204.76 719.96,1200.44 722.12,1200.44 722.12,1196.12 724.28,1196.12 724.28,1193.96" fill="#00ae6a"/>
<polygon points="767.72,1228.68 767.72,1230.84 769.88,1230.84 769.88,1235.16 772.04,1235.16 772.04,1239.48 774.2,1239.48 774.2,1243.8 776.36,1243.8 776.36,1245.96 778.52,1245.96 778.52,1250.28 780.68,1250.28 780.68,1254.6 782.84,1254.6 782.84,1256.76 785,1256.76 785,1254.6 787.16,1254.6 787.16,1250.28 789.32,1250.28 789.32,1245.96 791.48,1245.96 791.48,1243.8 793.64,1243.8 793.64,1239.48 795.8,1239.48 795.8,1235.16 797.96,1235.16 797.96,1230.84 800.12,1230.84 800.12,1228.68" fill="#00ae6a"/>
<polygon points="843.56,1293.74 843.56,1295.9 845.72,1295.9 845.72,1300.22 847.88,1300.22 847.88,1304.54 850.04,1304.54 850.04,1308.86 852.2,1308.86 852.2,1311.02 854.36,1311.02 854.36,1315.34 856.52,1315.34 856.52,1319.66 858.68,1319.66 858.68,1321.82 860.84,1321.82 860.84,1319.66 863,1319.66 863,1315.34 865.16,1315.34 865.16,1311.02 867.32,1311.02 867.32,1308.86 869.48,1308.86 869.48,1304.54 871.64,1304.54 871.64,1300.22 873.8,1300.22 873.8,1295.9 875.96,1295.9 875.96,1293.74" fill="#00ae6a"/>
<polygon points="919.4,1291.69 919.4,1293.85 921.56,1293.85 921.56,1298.17 923.72,1298.17 923.72,1302.49 925.88,1302.49 925.88,1306.81 928.04,1306.81 928.04,1308.97 930.2,1308.97 930.2,1313.29 932.36,1313.29 932.36,1317.61 934.52,1317.61 934.52,1319.77 936.68,1319.77 936.68,1317.61 938.84,1317.61 938.84,1313.29 941,1313.29 941,1308.97 943.16,1308.97 943.16,1306.81 945.32,1306.81 945.32,1302.49 947.48,1302.49 947.48,1298.17 949.64,1298.17 949.64,1293.85 951.8,1293.85 951.8,1291.69" fill="#00ae6a"/>
<polygon points="995.24,1293.74 995.24,1295.9 997.4,1295.9 997.4,1300.22 999.56,1300.22 999.56,1304.54 1001.72,1304.54 1001.72,1308.86 1003.88,1308.86 1003.88,1311.02 1006.04,1311.02 1006.04,1315.34 1008.2,1315.34 1008.2,1319.66 1010.36,1319.66 1010.36,1321.82 1012.52,1321.82 1012.52,1319.66 1014.68,1319.66 1014.68,1315.34 1016.84,1315.34 1016.84,1311.02 1019,1311.02 1019,1308.86 1021.16,1308.86 1021.16,1304.54 1023.32,1304.54 1023.32,1300.22 1025.48,1300.22 1025.48,1295.9 1027.64,1295.9 1027.64,1293.74" fill="#00ae6a"/>
<polygon points="1071.08,1244.16 1071.08,1246.32 1073.24,1246.32 1073.24,1250.64 1075.4,1250.64 1075.4,1254.96 1077.56,1254.96 1077.56,1259.28 1079.72,1259.28 1079.72,1261.44 1081.88,1261.44 1081.88,1265.76 1084.04,1265.76 1084.04,1270.08 1086.2,1270.08 1086.2,1272.24 1088.36,1272.24 1088.36,1270.08 1090.52,1270.08 1090.52,1265.76 1092.68,1265.76 1092.68,1261.44 1094.84,1261.44 1094.84,1259.28 1097,1259.28 1097,1254.96 1099.16,1254.96 1099.16,1250.64 1101.32,1250.64 1101.32,1246.32 1103.48,1246.32 1103.48,1244.16" fill="#00ae6a"/>
<polygon points="1146.92,1239.42 1146.92,1241.58 1149.08,1241.58 1149.08,1245.9 1151.24,1245.9 1151.24,1250.22 1153.4,1250.22 1153.4,1254.54 1155.56,1254.54 1155.56,1256.7 1157.72,1256.7 1157.72,1261.02 1159.88,1261.02 1159.88,1265.34 1162.04,1265.34 1162.04,1267.5 1164.2,1267.5 1164.2,1265.34 1166.36,1265.34 1166.36,1261.02 1168.52,1261.02 1168.52,1256.7 1170.68,1256.7 1170.68,1254.54 1172.84,1254.54 1172.84,1250.22 1175,1250.22 1175,1245.9 1177.16,1245.9 1177.16,1241.58 1179.32,1241.58 1179.32,1239.42" fill="#00ae6a"/>
<polygon points="1222.76,1228.18 1222.76,1230.34 1224.92,1230.34 1224.92,1234.66 1227.08,1234.66 1227.08,1238.98 1229.24,1238.98 1229.24,1243.3 1231.4,1243.3 1231.4,1245.46 1233.56,1245.46 1233.56,1249.78 1235.72,1249.78 1235.72,1254.1 1237.88,1254.1 1237.88,1256.26 1240.04,1256.26 1240.04,1254.1 1242.2,1254.1 1242.2,1249.78 1244.36,1249.78 1244.36,1245.46 1246.52,1245.46 1246.52,1243.3 1248.68,1243.3 1248.68,1238.98 1250.84,1238.98 1250.84,1234.66 1253,1234.66 1253,1230.34 1255.16,1230.34 1255.16,1228.18" fill="#00ae6a"/>
<polygon points="1298.6,1224.48 1298.6,1226.64 1300.76,1226.64 1300.76,1230.96 1302.92,1230.96 1302.92,1235.28 1305.08,1235.28 1305.08,1239.6 1307.24,1239.6 1307.24,1241.76 1309.4,1241.76 1309.4,1246.08 1311.56,1246.08 1311.56,1250.4 1313.72,1250.4 1313.72,1252.56 1315.88,1252.56 1315.88,1250.4 1318.04,1250.4 1318.04,1246.08 1320.2,1246.08 1320.2,1241.76 1322.36,1241.76 1322.36,1239.6 1324.52,1239.6 1324.52,1235.28 1326.68,1235.28 1326.68,1230.96 1328.84,1230.96 1328.84,1226.64 1331,1226.64 1331,1224.48" fill="#00ae6a"/>
<polygon points="1374.44,1167.24 1374.44,1169.4 1376.6,1169.4 1376.6,1173.72 1378.76,1173.72 1378.76,1178.04 1380.92,1178.04 1380.92,1182.36 1383.08,1182.36 1383.08,1184.52 1385.24,1184.52 1385.24,1188.84 1387.4,1188.84 1387.4,1193.16 1389.56,1193.16 1389.56,1195.32 1391.72,1195.32 1391.72,1193.16 1393.88,1193.16 1393.88,1188.84 1396.04,1188.84 1396.04,1184.52 1398.2,1184.52 1398.2,1182.36 1400.36,1182.36 1400.36,1178.04 1402.52,1178.04 1402.52,1173.72 1404.68,1173.72 1404.68,1169.4 1406.84,1169.4 1406.84,1167.24" fill="#00ae6a"/>
<polygon points="1450.28,1077.92 1450.28,1080.08 1452.44,1080.08 1452.44,1084.4 1454.6,1084.4 1454.6,1088.72 1456.76,1088.72 1456.76,1093.04 1458.92,1093.04 1458.92,1095.2 1461.08,1095.2 1461.08,1099.52 1463.24,1099.52 1463.24,1103.84 1465.4,1103.84 1465.4,1106 1467.56,1106 1467.56,1103.84 1469.72,1103.84 1469.72,1099.52 1471.88,1099.52 1471.88,1095.2 1474.04,1095.2 1474.04,1093.04 1476.2,1093.04 1476.2,1088.72 1478.36,1088.72 1478.36,1084.4 1480.52,1084.4 1480.52,1080.08 1482.68,1080.08 1482.68,1077.92" fill="#00ae6a"/>
<polygon points="1526.12,1037.76 1526.12,1039.92 1528.28,1039.92 1528.28,1044.24 1530.44,1044.24 1530.44,1048.56 1532.6,1048.56 1532.6,1052.88 1534.76,1052.88 1534.76,1055.04 1536.92,1055.04 1536.92,1059.36 1539.08,1059.36 1539.08,1063.68 1541.24,1063.68 1541.24,1065.84 1543.4,1065.84 1543.4,1063.68 1545.56,1063.68 1545.56,1059.36 1547.72,1059.36 1547.72,1055.04 1549.88,1055.04 1549.88,1052.88 1552.04,1052.88 1552.04,1048.56 1554.2,1048.56 1554.2,1044.24 1556.36,1044.24 1556.36,1039.92 1558.52,1039.92 1558.52,1037.76" fill="#00ae6a"/>
<polygon points="1601.96,929.82 1601.96,931.98 1604.12,931.98 1604.12,936.3 1606.28,936.3 1606.28,940.62 1608.44,940.62 1608.44,944.94 1610.6,944.94 1610.6,947.1 1612.76,947.1 1612.76,951.42 1614.92,951.42 1614.92,955.74 1617.08,955.74 1617.08,957.9 1619.24,957.9 1619.24,955.74 1621.4,955.74 1621.4,951.42 1623.56,951.42 1623.56,947.1 1625.72,947.1 1625.72,944.94 1627.88,944.94 1627.88,940.62 1630.04,940.62 1630.04,936.3 1632.2,936.3 1632.2,931.98 1634.36,931.98 1634.36,929.82" fill="#00ae6a"/>
<polygon points="1677.8,859.64 1677.8,861.8 1679.96,861.8 1679.96,866.12 1682.12,866.12 1682.12,870.44 1684.28,870.44 1684.28,874.76 1686.44,874.76 1686.44,876.92 1688.6,876.92 1688.6,881.24 1690.76,881.24 1690.76,885.56 1692.92,885.56 1692.92,887.72 1695.08,887.72 1695.08,885.56 1697.24,885.56 1697.24,881.24 1699.4,881.24 1699.4,876.92 1701.56,876.92 1701.56,874.76 1703.72,874.76 1703.72,870.44 1705.88,870.44 1705.88,866.12 1708.04,866.12 1708.04,861.8 1710.2,861.8 1710.2,859.64" fill="#00ae6a"/>
<polygon points="1753.64,870.78 1753.64,872.94 1755.8,872.94 1755.8,877.26 1757.96,877.26 1757.96,881.58 1760.12,881.58 1760.12,885.9 1762.28,885.9 1762.28,888.06 1764.44,888.06 1764.44,892.38 1766.6,892.38 1766.6,896.7 1768.76,896.7 1768.76,898.86 1770.92,898.86 1770.92,896.7 1773.08,896.7 1773.08,892.38 1775.24,892.38 1775.24,888.06 1777.4,888.06 1777.4,885.9 1779.56,885.9 1779.56,881.58 1781.72,881.58 1781.72,877.26 1783.88,877.26 1783.88,872.94 1786.04,872.94 1786.04,870.78" fill="#00ae6a"/>
<polygon points="1829.48,927.52 1829.48,929.68 1831.64,929.68 1831.64,934 1833.8,934 1833.8,938.32 1835.96,938.32 1835.96,942.64 1838.12,942.64 1838.12,944.8 1840.28,944.8 1840.28,949.12 1842.44,949.12 1842.44,953.44 1844.6,953.44 1844.6,955.6 1846.76,955.6 1846.76,953.44 1848.92,953.44 1848.92,949.12 1851.08,949.12 1851.08,944.8 1853.24,944.8 1853.24,942.64 1855.4,942.64 1855.4,938.32 1857.56,938.32 1857.56,934 1859.72,934 1859.72,929.68 1861.88,929.68 1861.88,927.52" fill="#00ae6a"/>
<polygon points="1905.32,931.87 1905.32,934.03 1907.48,934.03 1907.48,938.35 1909.64,938.35 1909.64,942.67 1911.8,942.67 1911.8,946.99 1913.96,946.99 1913.96,949.15 1916.12,949.15 1916.12,953.47 1918.28,953.47 1918.28,957.79 1920.44,957.79 1920.44,959.95 1922.6,959.95 1922.6,957.79 1924.76,957.79 1924.76,953.47 1926.92,953.47 1926.92,949.15 1929.08,949.15 1929.08,946.99 1931.24,946.99 1931.24,942.67 1933.4,942.67 1933.4,938.35 1935.56,938.35 1935.56,934.03 1937.72,934.03 1937.72,931.87" fill="#00ae6a"/>
<polygon points="1981.16,951.8 1981.16,953.96 1983.32,953.96 1983.32,958.28 1985.48,958.28 1985.48,962.6 1987.64,962.6 1987.64,966.92 1989.8,966.92 1989.8,969.08 1991.96,969.08 1991.96,973.4 1994.12,973.4 1994.12,977.72 1996.28,977.72 1996.28,979.88 1998.44,979.88 1998.44,977.72 2000.6,977.72 2000.6,973.4 2002.76,973.4 2002.76,969.08 2004.92,969.08 2004.92,966.92 2007.08,966.92 2007.08,962.6 2009.24,962.6 2009.24,958.28 2011.4,958.28 2011.4,953.96 2013.56,953.96 2013.56,951.8" fill="#00ae6a"/>
</g>
<path d="M252.8,1525v-11M252.8,39v11M328.6,1525v-22M328.6,39v22M404.4,1525v-11M404.4,39v11M480.2,1525v-22M480.2,39v22M556,1525v-11M556,39v11M631.8,1525v-22M631.8,39v22M707.6,1525v-11M707.6,39v11M783.4,1525v-22M783.4,39v22M859.2,1525v-11M859.2,39v11M935,1525v-22M935,39v22M1010.8,1525v-11M1010.8,39v11M1086.6,1525v-22M1086.6,39v22M1162.4,1525v-11M1162.4,39v11M1238.2,1525v-22M1238.2,39v22M1314,1525v-11M1314,39v11M1389.8,1525v-22M1389.8,39v22M1465.6,1525v-11M1465.6,39v11M1541.4,1525v-22M1541.4,39v22M1617.2,1525v-11M1617.2,39v11M1693,1525v-22M1693,39v22M1768.8,1525v-11M1768.8,39v11M1844.6,1525v-22M1844.6,39v22M1920.4,1525v-11M1920.4,39v11M1996.2,1525v-22M1996.2,39v22M177,1472.68h22M2072,1472.68h-22M177,1422.28h11M2072,1422.28h-11M177,1370.31h22M2072,1370.31h-22M177,1319.72h11M2072,1319.72h-11M177,1267.94h22M2072,1267.94h-22M177,1217.16h11M2072,1217.16h-11M177,1165.57h22M2072,1165.57h-22M177,1114.6h11M2072,1114.6h-11M177,1063.2h22M2072,1063.2h-22M177,1012.04h11M2072,1012.04h-11M177,960.83h22M2072,960.83h-22M177,909.48h11M2072,909.48h-11M177,858.46h22M2072,858.46h-22M177,806.92h11M2072,806.92h-11M177,756.09h22M2072,756.09h-22M177,704.36h11M2072,704.36h-11M177,653.72h22M2072,653.72h-22M177,601.8h11M2072,601.8h-11M177,551.35h22M2072,551.35h-22M177,499.24h11M2072,499.24h-11M177,448.98h22M2072,448.98h-22M177,396.68h11M2072,396.68h-11M177,346.61h22M2072,346.61h-22M177,294.12h11M2072,294.12h-11M177,244.24h22M2072,244.24h-22M177,191.56h11M2072,191.56h-11M177,141.87h22M2072,141.87h-22M177,89h11M2072,89h-11" stroke="#000" stroke-width="4" fill="none"/>
<rect x="177" y="39" width="1895" height="1486" fill="none" stroke="#000" stroke-width="4"/>
<g font-size="58.3" text-anchor="end">
<text transform="translate(154.2 1489.48) scale(1.045 1)">30</text>
<text transform="translate(154.2 1387.11) scale(1.045 1)">31</text>
<text transform="translate(154.2 1284.74) scale(1.045 1)">32</text>
<text transform="translate(154.2 1182.37) scale(1.045 1)">33</text>
<text transform="translate(154.2 1080) scale(1.045 1)">34</text>
<text transform="translate(154.2 977.63) scale(1.045 1)">35</text>
<text transform="translate(154.2 875.26) scale(1.045 1)">36</text>
<text transform="translate(154.2 772.89) scale(1.045 1)">37</text>
<text transform="translate(154.2 670.52) scale(1.045 1)">38</text>
<text transform="translate(154.2 568.15) scale(1.045 1)">39</text>
<text transform="translate(154.2 465.78) scale(1.045 1)">40</text>
<text transform="translate(154.2 363.41) scale(1.045 1)">41</text>
<text transform="translate(154.2 261.04) scale(1.045 1)">42</text>
<text transform="translate(154.2 158.67) scale(1.045 1)">43</text>
<text transform="translate(154.2 56.3) scale(1.045 1)">44</text>
</g>
<g font-size="58.3" text-anchor="middle">
<text transform="translate(177.4 1592.7) scale(1.04 1)">0</text>
<text transform="translate(329 1592.7) scale(1.04 1)">2</text>
<text transform="translate(480.6 1592.7) scale(1.04 1)">4</text>
<text transform="translate(632.2 1592.7) scale(1.04 1)">6</text>
<text transform="translate(783.8 1592.7) scale(1.04 1)">8</text>
<text transform="translate(934 1592.7) scale(1.04 1)">10</text>
<text transform="translate(1085.6 1592.7) scale(1.04 1)">12</text>
<text transform="translate(1237.2 1592.7) scale(1.04 1)">14</text>
<text transform="translate(1388.8 1592.7) scale(1.04 1)">16</text>
<text transform="translate(1540.4 1592.7) scale(1.04 1)">18</text>
<text transform="translate(1692 1592.7) scale(1.04 1)">20</text>
<text transform="translate(1843.6 1592.7) scale(1.04 1)">22</text>
<text transform="translate(1995.2 1592.7) scale(1.04 1)">24</text>
</g>
<text x="1150.9" y="1657.8" font-size="70" text-anchor="middle">Test time</text>
<text transform="translate(63.8 781.9) rotate(-90)" font-size="70" letter-spacing="-0.56" text-anchor="middle">Measuring point temperature(Unit:°C)</text>
<rect x="338.6" y="132.7" width="325.3" height="294.3" fill="#000"/>
<rect x="324.3" y="116.2" width="325.40000000000003" height="296.40000000000003" fill="#80ffe1" stroke="#000" stroke-width="2"/>
<line x1="330" y1="157.6" x2="461" y2="157.6" stroke="#515151" stroke-width="2"/>
<polygon points="384.5,146.1 384.5,167.7 406.1,167.7 406.1,146.1" fill="#515151"/>
<text x="472.2" y="176.5" font-size="58.3">Point 1</text>
<line x1="330" y1="229.8" x2="461" y2="229.8" stroke="#fe3e3e" stroke-width="2"/>
<polygon points="393.07,215.62 393.07,217.8 386.53,217.8 386.53,219.98 384.35,219.98 384.35,226.52 382.17,226.52 382.17,230.88 384.35,230.88 384.35,237.42 386.53,237.42 386.53,239.6 393.07,239.6 393.07,241.78 397.43,241.78 397.43,239.6 403.97,239.6 403.97,237.42 406.15,237.42 406.15,230.88 408.33,230.88 408.33,226.52 406.15,226.52 406.15,219.98 403.97,219.98 403.97,217.8 397.43,217.8 397.43,215.62" fill="#fe3e3e"/>
<text x="472.2" y="248" font-size="58.3">Point 2</text>
<line x1="330" y1="299.7" x2="461" y2="299.7" stroke="#0072e4" stroke-width="2"/>
<polygon points="395.4,280.8 395.4,283 393.2,283 393.2,287.4 391,287.4 391,291.8 388.8,291.8 388.8,294 386.6,294 386.6,298.4 384.4,298.4 384.4,302.8 382.2,302.8 382.2,307.2 380,307.2 380,309.4 413,309.4 413,307.2 410.8,307.2 410.8,302.8 408.6,302.8 408.6,298.4 406.4,298.4 406.4,294 404.2,294 404.2,291.8 402,291.8 402,287.4 399.8,287.4 399.8,283 397.6,283 397.6,280.8" fill="#0072e4"/>
<text x="472.2" y="318.4" font-size="58.3">Point 3</text>
<line x1="330" y1="371.3" x2="461" y2="371.3" stroke="#00ae6a" stroke-width="2"/>
<polygon points="380,362.4 380,364.6 382.2,364.6 382.2,369 384.4,369 384.4,373.4 386.6,373.4 386.6,377.8 388.8,377.8 388.8,380 391,380 391,384.4 393.2,384.4 393.2,388.8 395.4,388.8 395.4,391 397.6,391 397.6,388.8 399.8,388.8 399.8,384.4 402,384.4 402,380 404.2,380 404.2,377.8 406.4,377.8 406.4,373.4 408.6,373.4 408.6,369 410.8,369 410.8,364.6 413,364.6 413,362.4" fill="#00ae6a"/>
<text x="472.2" y="389.5" font-size="58.3">Point 4</text>
</svg></body></html>
